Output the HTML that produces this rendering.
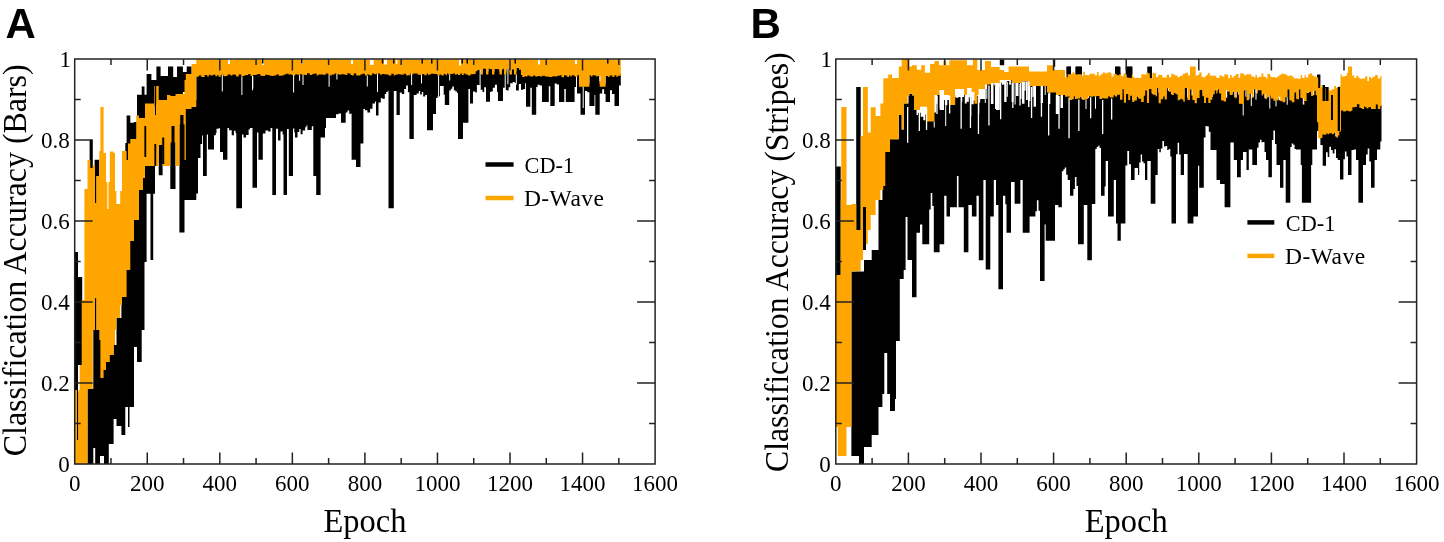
<!DOCTYPE html>
<html><head><meta charset="utf-8"><title>Classification Accuracy</title>
<style>
html,body{margin:0;padding:0;background:#fff;width:1444px;height:542px;overflow:hidden}
svg{display:block;filter:blur(0.35px)}
.tl{font-family:'Liberation Serif', serif;font-size:24px;fill:#000}
.xl{font-family:'Liberation Serif', serif;font-size:32px;fill:#000}
.lg{font-family:'Liberation Serif', serif;font-size:23.5px;fill:#000}
.pl{font-family:'Liberation Sans', sans-serif;font-size:42px;font-weight:bold;fill:#000}
</style></head><body>
<svg width="1444" height="542" viewBox="0 0 1444 542">
<path fill="#000" d="M74.8 252H78V392H74.8zM77 392H78.4V440H77zM78 277H82.2V365H78zM89.6 139.7H92.8V168H89.6zM94.6 159.7H96.5V330H94.6zM95.4 159.7H99.3V176H95.4zM95.2 330H100V464H95.2zM100 330H104V456H100zM93.3 330H95.2V448H93.3zM87.5 389H93.3V464H87.5zM104 362H108.8V464H104zM108.8 355H113.6V444H108.8zM113.6 345H116.5V419H113.6zM116.5 318H121.4V426H116.5zM121.4 297H125.3V435H121.4zM125.3 143H130V407H125.3zM126.6 115.4H130.3V143.5H126.6zM128 400H129.5V427H128zM130 122.8H134V407H130zM134 122H137V347H134zM137 94.8H141.7V362H137zM141.7 86.6H144.5V330H141.7zM144.5 94.8H146.6V262H144.5zM143.6 95H146.6V110H143.6zM146.6 74H151.4V106H146.6zM151.4 80H156.4V106H151.4zM156.4 66.5H160.6V104H156.4zM160.6 76H168V100H160.6zM168 66.5H173.2V102H168zM173.2 77H177V100H173.2zM177 66.5H182.9V96H177zM182.9 72H186.7V92H182.9zM186.7 66.5H191.6V76H186.7zM191.6 76H196V80H191.6zM143 160H155V193.7H143zM150.5 193H153.2V260H150.5zM158.7 100H162.6V175.3H158.7zM170.3 100H175.5V189H170.3zM179.4 94H184.5V232.5H179.4zM184.5 100H196.3V200H184.5zM154.7 99H156.2V120H154.7zM196.3 73.7H198V193.6H196.3zM198 73.7H198.7V158H198zM198.7 72.5H200.5V158H198.7zM200.5 72.5H201.3V144H200.5zM201.3 73.9H202.1V144H201.3zM202.1 73.9H203V135.6H202.1zM203 73.9H203V176H203zM203 74.1H204.6V176H203zM204.6 72H206.8V176H204.6zM206.8 72H207.2V134.5H206.8zM207.2 73.4H208V134.5H207.2zM208 73.4H208.8V149.4H208zM208.8 71.8H210.4V149.4H208.8zM210.4 72.6H212.9V149.4H210.4zM212.9 71.8H214V149.4H212.9zM214 71.8H215.4V135.2H214zM215.4 73.2H215.8V135.2H215.4zM215.8 73.2H216.5V133.1H215.8zM216.5 73.2H217.2V128.7H216.5zM217.2 72H218.5V128.7H217.2zM218.5 73.7H218.5V128.7H218.5zM218.5 73.7H220V128.2H218.5zM220 73.7H220.8V152H220zM220.8 71.7H223V152H220.8zM223 71.7H223.5V159.7H223zM223.5 73.2H225.5V159.7H223.5zM225.5 73H227.4V159.7H225.5zM227.4 73H227.5V127.9H227.4zM227.5 71.5H229V127.9H227.5zM229 71.4H229.1V127.9H229zM229.1 71.4H230.4V130.2H229.1zM230.4 72.5H231.7V130.2H230.4zM231.7 72.5H232.5V135.2H231.7zM232.5 71.6H233.9V135.2H232.5zM233.9 71.6H234.6V130.8H233.9zM234.6 71.7H235.6V130.8H234.6zM235.6 71.7H236.1V133.3H235.6zM236.1 73.6H236.3V133.3H236.1zM236.3 73.6H238.6V208.3H236.3zM238.6 71.4H241.3V208.3H238.6zM241.3 73.4H242V208.3H241.3zM242 73.4H242.6V134.5H242zM242.6 73H243.5V134.5H242.6zM243.5 73H244.5V137.6H243.5zM244.5 72.2H246V137.6H244.5zM246 72.2H246.3V134.9H246zM246.3 72.1H248.3V134.9H246.3zM248.3 71.1H248.6V134.9H248.3zM248.6 71.1H249.9V129.6H248.6zM249.9 71.1H250.5V128.1H249.9zM250.5 73H252.5V128.1H250.5zM252.5 73H252.8V187.7H252.5zM252.8 72.1H254.3V187.7H252.8zM254.3 71.9H256.7V187.7H254.3zM256.7 71.3H257V187.7H256.7zM257 71.3H258.2V132.5H257zM258.2 70.9H258.4V132.5H258.2zM258.4 70.9H260.2V159.7H258.4zM260.2 72.8H262.8V159.7H260.2zM262.8 72.8H262.8V133.6H262.8zM262.8 72.9H265.1V133.6H262.8zM265.1 71.8H265.5V133.6H265.1zM265.5 71.8H267.3V130.5H265.5zM267.3 72H268.1V130.5H267.3zM268.1 72H269.5V131.5H268.1zM269.5 72.7H270.6V131.5H269.5zM270.6 72.7H272.3V128.1H270.6zM272.3 72.9H272.3V128.1H272.3zM272.3 72.9H273.9V195H272.3zM273.9 72.5H276V195H273.9zM276 72.5H276.3V128.8H276zM276.3 71.6H278V128.8H276.3zM278 71.6H278.8V140.5H278zM278.8 72.7H280.5V140.5H278.8zM280.5 72.7H281.4V131.6H280.5zM281.4 72.4H282.6V131.6H281.4zM282.6 72.4H283.5V134.6H282.6zM283.5 72.4H283.7V195H283.5zM283.7 71.5H286.2V195H283.7zM286.2 70.7H287V195H286.2zM287 70.7H288.5V129H287zM288.5 71.6H288.8V129H288.5zM288.8 71.6H290.3V176H288.8zM290.3 71.3H291.5V176H290.3zM291.5 71.9H293V176H291.5zM293 71.9H293.7V128.5H293zM293.7 72.6H294.3V128.5H293.7zM294.3 72.6H295V132.6H294.3zM295 72.6H295.3V137.6H295zM295.3 71.2H297.5V137.6H295.3zM297.5 71.2H297.5V132H297.5zM297.5 71.7H299.3V132H297.5zM299.3 71.7H299.8V128.9H299.3zM299.8 71.2H300.6V128.9H299.8zM300.6 71.2H301.8V134.2H300.6zM301.8 71.8H302.6V134.2H301.8zM302.6 71.8H304.6V130.5H302.6zM304.6 72.1H305.1V130.5H304.6zM305.1 72.1H306.3V127.2H305.1zM306.3 72.1H307V125.5H306.3zM307 70.3H307.4V125.5H307zM307.4 70.3H309.7V130H307.4zM309.7 72.1H311.8V130H309.7zM311.8 72.1H311.9V126.2H311.8zM311.9 71.3H313.3V126.2H311.9zM313.3 71.3H313.5V176H313.3zM313.5 70.8H314.8V176H313.5zM314.8 70.5H316.2V176H314.8zM316.2 70.5H316.6V195H316.2zM316.6 72.5H318.2V195H316.6zM318.2 71.5H320.3V195H318.2zM320.3 71.6H320.6V195H320.3zM320.6 71.6H323V137.6H320.6zM323 71.8H325V137.6H323zM325 71.8H325.8V128.1H325zM325.8 70.5H326V128.1H325.8zM326 70.5H328.3V118H326zM328.3 72.1H330.5V118H328.3zM330.5 72.5H331.8V118H330.5zM331.8 71.4H333.2V118H331.8zM333.2 71.5H334.7V118H333.2zM334.7 70.4H336V118H334.7zM336 70.4H336.9V114.2H336zM336.9 71.3H338.5V114.2H336.9zM338.5 71.3H339.6V113.4H338.5zM339.6 71.7H341V113.4H339.6zM341 71.7H341.6V122.8H341zM341.6 70.9H343.4V122.8H341.6zM343.4 71.6H345.7V122.8H343.4zM345.7 72H345.7V122.8H345.7zM345.7 72H347.3V112.4H345.7zM347.3 70.3H347.5V112.4H347.3zM347.5 70.3H349V110.4H347.5zM349 70.4H349.2V110.4H349zM349.2 70.4H350.6V113.7H349.2zM350.6 72.1H351.6V113.7H350.6zM351.6 72.1H352V159.7H351.6zM352 72.4H353.8V159.7H352zM353.8 70.4H356V159.7H353.8zM356 70.4H356.2V167H356zM356.2 72.5H359V167H356.2zM359 72.4H360.3V167H359zM360.3 71.4H360.5V167H360.3zM360.5 71.4H362.2V143.5H360.5zM362.2 70.8H363.4V143.5H362.2zM363.4 70.8H365V109H363.4zM365 72.5H365V109H365zM365 72.5H367V110.3H365zM367 71.4H367.4V110.3H367zM367.4 71.4H369.4V112.6H367.4zM369.4 72.2H370.1V112.6H369.4zM370.1 72.2H372.1V108.8H370.1zM372.1 70.5H372.5V108.8H372.1zM372.5 70.5H374.3V103.5H372.5zM374.3 71.3H375V103.5H374.3zM375 71.3H376V101.4H375zM376 71.3H376.5V115.5H376zM376.5 70.4H378V115.5H376.5zM378 70.5H378.5V115.5H378zM378.5 70.5H380.1V102.5H378.5zM380.1 71.8H380.8V102.5H380.1zM380.8 71.8H382V98.1H380.8zM382 70.9H382.3V98.1H382zM382.3 70.9H383.9V98.7H382.3zM383.9 71.2H384.8V98.7H383.9zM384.8 71.2H386.1V93.9H384.8zM386.1 71.5H386.2V93.9H386.1zM386.2 71.5H387.6V92H386.2zM387.6 71.5H388.5V90.8H387.6zM388.5 72.5H388.5V90.8H388.5zM388.5 72.5H391.3V208.3H388.5zM391.3 70.8H393.7V208.3H391.3zM393.7 72.4H393.8V208.3H393.7zM393.8 72.4H395V91H393.8zM395 71.7H396.5V91H395zM396.5 71.7H397.5V115H396.5zM397.5 70.9H399.3V115H397.5zM399.3 71.6H399.8V115H399.3zM399.8 71.6H401.6V92.6H399.8zM401.6 71.7H401.8V92.6H401.6zM401.8 71.7H403.7V94.1H401.8zM403.7 70.7H404.2V94.1H403.7zM404.2 70.7H406.1V89H404.2zM406.1 70.7H406.1V85.6H406.1zM406.1 72.6H407.7V85.6H406.1zM407.7 72.3H407.9V85.6H407.7zM407.9 72.3H409.4V92.3H407.9zM409.4 72.3H410.4V139H409.4zM410.4 70.3H411.7V139H410.4zM411.7 71.2H413.3V139H411.7zM413.3 70.4H413.8V139H413.3zM413.8 70.4H415.5V94.9H413.8zM415.5 70.4H416.6V94.9H415.5zM416.6 70.4H417.6V93.5H416.6zM417.6 71.8H418.8V93.5H417.6zM418.8 71.8H418.9V91H418.8zM418.9 71.7H420.1V91H418.9zM420.1 71.7H421V94.5H420.1zM421 71.3H421.8V94.5H421zM421.8 71.3H422.8V92H421.8zM422.8 71H423.2V92H422.8zM423.2 71H424.3V96.4H423.2zM424.3 72.2H425.2V96.4H424.3zM425.2 72.2H426.7V94.9H425.2zM426.7 70.5H427V94.9H426.7zM427 70.5H428V130.2H427zM428 71.7H430.5V130.2H428zM430.5 70.7H432.9V130.2H430.5zM432.9 70.8H433V130.2H432.9zM433 70.8H434.8V114H433zM434.8 71.1H436V114H434.8zM436 71.1H437.3V98.1H436zM437.3 72.6H437.5V98.1H437.3zM437.5 72.6H439.6V96.3H437.5zM439.6 71.5H440V96.3H439.6zM440 71.5H441.3V86H440zM441.3 72.4H443.7V86H441.3zM443.7 71.1H443.7V86H443.7zM443.7 71.1H444.8V94.7H443.7zM444.8 71.1H445.6V105H444.8zM445.6 72.3H446.9V105H445.6zM446.9 70.4H448.2V105H446.9zM448.2 71.4H449.2V105H448.2zM449.2 71.4H450.3V90.5H449.2zM450.3 70.9H450.8V90.5H450.3zM450.8 70.9H452.3V88.7H450.8zM452.3 70.9H452.6V86.4H452.3zM452.6 70.4H453.9V86.4H452.6zM453.9 70.4H455.1V90.3H453.9zM455.1 71.8H455.4V90.3H455.1zM455.4 71.8H456.6V91.5H455.4zM456.6 70.9H457V91.5H456.6zM457 70.9H458V92.9H457zM458 71.9H458V92.9H458zM458 71.9H460.3V139H458zM460.3 70.5H462V139H460.3zM462 71.9H463V139H462zM463 71.9H463.7V122.8H463zM463.7 70.5H465.5V122.8H463.7zM465.5 71.6H467.9V122.8H465.5zM467.9 72.5H468.4V122.8H467.9zM468.4 72.5H470V89H468.4zM470 72.5H470.5V103.6H470zM470.5 71.3H473V103.6H470.5zM473 71.3H473.2V91.6H473zM473.2 70.9H475.3V91.6H473.2zM475.3 70.9H475.7V92.4H475.3zM475.7 68.3H476.9V92.4H475.7zM476.9 68.3H477.4V84.9H476.9zM477.4 66.9H479.1V84.9H477.4zM479.1 66.9H480.4V85.3H479.1zM480.4 66.9H480.5V89.7H480.4zM480.5 71.4H482.5V89.7H480.5zM482.5 71.4H482.9V92H482.5zM482.9 65.7H484.2V92H482.9zM484.2 65.7H484.5V87.2H484.2zM484.5 65.7H486V87.2H484.5zM486 71.4H488.4V101.8H486zM488.4 65.7H490V101.8H488.4zM490 65.7H490.2V92.1H490zM490.2 66.2H491.4V92.1H490.2zM491.4 66.2H492V91.3H491.4zM492 71.4H492.8V91.3H492zM492.8 71.4H494.4V87.8H492.8zM494.4 66.1H494.9V87.8H494.4zM494.9 66.1H496.9V84.7H494.9zM496.9 66.2H497V84.7H496.9zM497 66.2H498V91.9H497zM498 66.2H499.5V101H498zM499.5 71.4H501.9V101H499.5zM501.9 66.6H503V101H501.9zM503 66.6H503.4V87.7H503zM503.4 65.5H504V87.7H503.4zM504 71.4H505.5V87.7H504zM505.5 71.4H506.4V89.9H505.5zM506.4 66H506.9V89.9H506.4zM506.9 66H507.6V90.5H506.9zM507.6 66.2H508.6V90.5H507.6zM508.6 66.2H509.5V87.2H508.6zM509.5 71.4H510.2V87.2H509.5zM510.2 71.4H511.9V83.2H510.2zM511.9 66.4H512.7V83.2H511.9zM512.7 66.4H514V82H512.7zM514 71.4H514.8V82H514zM514.8 71.4H516V83H514.8zM516 71.4H516.4V90.5H516zM516.4 65H518.8V90.5H516.4zM518.8 65H518.9V84.1H518.8zM518.9 66.7H521V84.1H518.9zM521 72H521V84.1H521zM521 72H522.3V89.8H521zM522.3 74H523.3V89.8H522.3zM523.3 74H524.7V88.9H523.3zM524.7 73.3H525.1V88.9H524.7zM525.1 73.3H526V83.2H525.1zM526 73.3H526V106.7H526zM526 73.6H527.4V106.7H526zM527.4 72.4H529.7V106.7H527.4zM529.7 73.6H530.3V106.7H529.7zM530.3 73.6H531.2V87.7H530.3zM531.2 73.6H531.8V87.7H531.2zM531.8 73.6H533.3V114.8H531.8zM533.3 72.6H535.1V114.8H533.3zM535.1 73.4H536.2V114.8H535.1zM536.2 73.4H537.6V86.9H536.2zM537.6 73.4H537.8V84.7H537.6zM537.8 73.1H539.7V84.7H537.8zM539.7 73.1H539.8V85.6H539.7zM539.8 73.5H542V85.6H539.8zM542 73.5H542.2V102H542zM542.2 72.8H544.9V102H542.2zM544.9 73.4H547.4V102H544.9zM547.4 73.7H548.8V102H547.4zM548.8 73.7H549.9V86.3H548.8zM549.9 73.9H550.3V86.3H549.9zM550.3 73.9H552.5V106H550.3zM552.5 73.3H554.7V106H552.5zM554.7 73.3H555.2V83.4H554.7zM555.2 73.5H556.9V83.4H555.2zM556.9 73.5H557.2V84.4H556.9zM557.2 72.8H559V84.4H557.2zM559 72.8H559.7V102H559zM559.7 72.2H561.6V102H559.7zM561.6 74.2H564V102H561.6zM564 72.2H564.3V102H564zM564.3 72.2H565.8V89H564.3zM565.8 72.8H565.8V89H565.8zM565.8 72.8H567.3V102H565.8zM567.3 74.1H569V102H567.3zM569 72.5H570.3V102H569zM570.3 73.4H571.7V102H570.3zM571.7 72.2H574.1V102H571.7zM574.1 72.9H574.6V102H574.1zM574.6 72.9H575.4V87.1H574.6zM575.4 74H576V87.1H575.4zM576 74H577.5V93.4H576zM577.5 72.1H579V93.4H577.5zM579 83.7H580.5V93.4H579zM580.5 83.7H585V114.8H580.5zM585 83.7H587.2V91.1H585zM587.2 83.7H589.4V92.2H587.2zM589.4 72.3H590.9V106H589.4zM590.9 73.5H592.5V106H590.9zM592.5 72.3H594.5V106H592.5zM594.5 72.3H594.6V94.9H594.5zM594.6 72.5H595.3V94.9H594.6zM595.3 72.5H596.1V114.8H595.3zM596.1 73.6H597.6V114.8H596.1zM597.6 73.1H599.7V114.8H597.6zM599.7 83.7H602.2V93.6H599.7zM602.2 83.7H604.1V89.3H602.2zM604.1 83.7H605.6V94.1H604.1zM605.6 73H608.1V102H605.6zM608.1 73.9H609.7V102H608.1zM609.7 72.6H610V102H609.7zM610 72.6H612V90.3H610zM612 72.6H612.4V94H612zM612.4 74.1H614.5V94H612.4zM614.5 72.3H614.5V94H614.5zM614.5 72.3H616.4V106H614.5zM616.4 74.1H617.7V106H616.4zM617.7 72.7H619V106H617.7zM619 72.7H620.2V85.5H619zM620.2 73H620.8V85.5H620.2z"/>
<path fill="#FFA500" d="M74.8 390H77V464.5H74.8zM77 440H78.4V464.5H77zM78.4 390H79.7V464.5H78.4zM79.7 365H81.7V464.5H79.7zM81.7 300H84.4V464.5H81.7zM84.4 189H87.5V464.5H84.4zM87.5 160H90.3V389H87.5zM90.3 168H92.8V389H90.3zM92.8 165H95V330H92.8zM95 203H96.5V298H95zM96.5 176H99.3V330H96.5zM99.3 151H100.4V340H99.3zM100.4 107H103.6V378H100.4zM103.6 153H106V370H103.6zM106 182H107.3V362H106zM107.3 209H108.5V362H107.3zM108.5 182H109.8V362H108.5zM109.8 151.6H113.7V355H109.8zM113.7 153H115V345H113.7zM115 191H116.4V330H115zM116.4 204H120.2V318H116.4zM120.2 191H122V305H120.2zM122 151H126.6V297H122zM126.6 160H128V270H126.6zM128 143.5H130.3V270H128zM130.3 139H134V241H130.3zM134 139H136.2V220H134zM136.2 115.4H139V220H136.2zM139 118H143V190H139zM143 118H145V178H143zM145 103.6H154V166H145zM154 86H154.7V166H154zM154.7 115H156.2V166H154.7zM156.2 86H158.7V166H156.2zM158.7 100H162.6V145H158.7zM162.6 100H167V166H162.6zM167 95H170.3V166H167zM170.3 96H175.5V142.6H170.3zM175.5 94H179.4V166H175.5zM179.4 94H184.5V124.5H179.4zM184.5 80H185.8V160H184.5zM185.8 74H191.6V109H185.8zM191.6 64H196.3V107H191.6zM196.3 59.6H198.2V76.7H196.3zM198.2 59.6H198.7V76.7H198.2zM198.7 59.6H200.9V75.5H198.7zM200.9 59.7H201.3V75.5H200.9zM201.3 59.7H202.9V76.9H201.3zM202.9 59.6H203V76.9H202.9zM203 59.6H204.4V77.1H203zM204.4 59.8H204.6V77.1H204.4zM204.6 59.8H206.6V75H204.6zM206.6 59.5H207.2V75H206.6zM207.2 59.5H208V76.4H207.2zM208 59.8H208.8V76.4H208zM208.8 59.8H209.3V74.8H208.8zM209.3 59.3H210.4V74.8H209.3zM210.4 59.3H211.6V75.6H210.4zM211.6 59.9H212.9V75.6H211.6zM212.9 59.9H214.4V74.8H212.9zM214.4 59.7H215.4V74.8H214.4zM215.4 59.7H216.6V76.2H215.4zM216.6 59.3H217.2V76.2H216.6zM217.2 59.3H218.1V75H217.2zM218.1 59.3H218.5V75H218.1zM218.5 59.3H220.1V76.7H218.5zM220.1 59.4H220.8V76.7H220.1zM220.8 59.4H221.6V74.7H220.8zM221.6 59.6H222.9V74.7H221.6zM222.9 59.8H223.5V74.7H222.9zM223.5 59.8H224.8V76.2H223.5zM224.8 59.7H225.5V76.2H224.8zM225.5 59.7H226.8V76H225.5zM226.8 59.7H227.5V76H226.8zM227.5 59.7H228V74.5H227.5zM228 64H229V74.5H228zM229 64H230V74.4H229zM230 59.5H230.4V74.4H230zM230.4 59.5H231.9V75.5H230.4zM231.9 59.9H232.5V75.5H231.9zM232.5 59.9H234.6V74.6H232.5zM234.6 59.9H234.7V74.7H234.6zM234.7 59.7H236.1V74.7H234.7zM236.1 59.7H237.3V76.6H236.1zM237.3 59.4H238.6V76.6H237.3zM238.6 59.4H239V74.4H238.6zM239 59.3H240.6V74.4H239zM240.6 59.5H241.3V74.4H240.6zM241.3 59.5H242.6V76.4H241.3zM242.6 59.5H243.1V76H242.6zM243.1 59.5H244.5V76H243.1zM244.5 59.5H245.6V75.2H244.5zM245.6 59.8H246.3V75.2H245.6zM246.3 59.8H248.3V75.1H246.3zM248.3 59.8H248.4V74.1H248.3zM248.4 59.4H249.6V74.1H248.4zM249.6 59.6H250.5V74.1H249.6zM250.5 59.6H252.2V76H250.5zM252.2 59.5H252.8V76H252.2zM252.8 59.5H254.3V75.1H252.8zM254.3 59.5H255V74.9H254.3zM255 59.7H256.3V74.9H255zM256.3 59.5H256.7V74.9H256.3zM256.7 59.5H258.2V74.3H256.7zM258.2 59.5H258.7V73.9H258.2zM258.7 59.5H260.1V73.9H258.7zM260.1 59.8H260.2V73.9H260.1zM260.2 59.8H262V75.8H260.2zM262 65H262.8V75.8H262zM262.8 65H264V75.9H262.8zM264 59.4H265.1V75.9H264zM265.1 59.4H265.4V74.8H265.1zM265.4 59.3H266.8V74.8H265.4zM266.8 59.4H267.3V74.8H266.8zM267.3 59.4H269.2V75H267.3zM269.2 59.6H269.5V75H269.2zM269.5 59.6H271.3V75.7H269.5zM271.3 59.7H272.3V75.7H271.3zM272.3 59.7H272.8V75.9H272.3zM272.8 59.7H273.9V75.9H272.8zM273.9 59.7H274.2V75.5H273.9zM274.2 59.6H275.6V75.5H274.2zM275.6 59.5H276.3V75.5H275.6zM276.3 59.5H277.2V74.6H276.3zM277.2 59.8H278.8V74.6H277.2zM278.8 59.8H279.9V75.7H278.8zM279.9 59.8H281.4V75.7H279.9zM281.4 59.8H281.6V75.4H281.4zM281.6 59.5H283.1V75.4H281.6zM283.1 59.7H283.7V75.4H283.1zM283.7 59.7H285.7V74.5H283.7zM285.7 59.9H286.2V74.5H285.7zM286.2 59.9H287.1V73.7H286.2zM287.1 59.5H288.5V73.7H287.1zM288.5 59.5H288.6V74.6H288.5zM288.6 59.5H290.3V74.6H288.6zM290.3 59.5H291V74.3H290.3zM291 59.3H291.5V74.3H291zM291.5 59.3H292.7V74.9H291.5zM292.7 59.6H293.7V74.9H292.7zM293.7 59.6H294.1V75.6H293.7zM294.1 59.7H295.3V75.6H294.1zM295.3 59.7H295.7V74.2H295.3zM295.7 59.6H297.4V74.2H295.7zM297.4 59.6H297.5V74.2H297.4zM297.5 59.6H299.8V74.7H297.5zM299.8 59.6H300.2V74.2H299.8zM300.2 59.8H301V74.2H300.2zM301 64H301.8V74.2H301zM301.8 64H303V74.8H301.8zM303 59.4H304.5V74.8H303zM304.5 59.8H304.6V74.8H304.5zM304.6 59.8H307V75.1H304.6zM307 59.8H307.1V73.3H307zM307.1 59.4H308.7V73.3H307.1zM308.7 59.9H309.7V73.3H308.7zM309.7 59.9H311.1V75.1H309.7zM311.1 59.9H311.9V75.1H311.1zM311.9 59.9H312.6V74.3H311.9zM312.6 59.7H313.5V74.3H312.6zM313.5 59.7H314.8V73.8H313.5zM314.8 59.7H315.3V73.5H314.8zM315.3 59.4H316.6V73.5H315.3zM316.6 59.4H317.1V75.5H316.6zM317.1 59.9H318.2V75.5H317.1zM318.2 59.9H318.4V74.5H318.2zM318.4 59.7H320V74.5H318.4zM320 59.8H320.3V74.5H320zM320.3 59.8H321.6V74.6H320.3zM321.6 59.5H323V74.6H321.6zM323 59.5H323.7V74.8H323zM323.7 59.7H325.2V74.8H323.7zM325.2 59.4H325.8V74.8H325.2zM325.8 59.4H326.5V73.5H325.8zM326.5 59.8H328.3V73.5H326.5zM328.3 59.8H328.6V75.1H328.3zM328.6 59.5H330.5V75.1H328.6zM330.5 59.5H330.8V75.5H330.5zM330.8 59.4H331.8V75.5H330.8zM331.8 59.4H333.2V74.4H331.8zM333.2 59.4H333.5V74.5H333.2zM333.5 59.5H334.7V74.5H333.5zM334.7 59.5H334.7V73.4H334.7zM334.7 59.3H336.6V73.4H334.7zM336.6 59.5H336.9V73.4H336.6zM336.9 59.5H338.1V74.3H336.9zM338.1 59.4H339.6V74.3H338.1zM339.6 59.4H340.2V74.7H339.6zM340.2 59.8H341.6V74.7H340.2zM341.6 59.8H342V73.9H341.6zM342 59.7H343.4V73.9H342zM343.4 59.7H344.8V74.6H343.4zM344.8 59.7H345.7V74.6H344.8zM345.7 59.7H347.1V75H345.7zM347.1 59.3H347.3V75H347.1zM347.3 59.3H348.5V73.3H347.3zM348.5 59.8H349V73.3H348.5zM349 59.8H349.7V73.4H349zM349.7 59.9H350.6V73.4H349.7zM350.6 59.9H351V75.1H350.6zM351 64H352V75.1H351zM352 64H353V75.4H352zM353 59.7H353.8V75.4H353zM353.8 59.7H354.2V73.4H353.8zM354.2 59.7H356.2V73.4H354.2zM356.2 59.9H356.2V73.4H356.2zM356.2 59.9H357.9V75.5H356.2zM357.9 59.6H359V75.5H357.9zM359 59.6H359.2V75.4H359zM359.2 59.8H360.3V75.4H359.2zM360.3 59.8H361.6V74.4H360.3zM361.6 59.7H362.2V74.4H361.6zM362.2 59.7H364V73.8H362.2zM364 59.8H365V73.8H364zM365 59.8H366.5V75.5H365zM366.5 59.7H367V75.5H366.5zM367 59.7H368.2V74.4H367zM368.2 59.8H369.4V74.4H368.2zM369.4 59.8H370V75.2H369.4zM370 65H372.1V75.2H370zM372.1 65H373.6V73.5H372.1zM373.6 59.8H374.3V73.5H373.6zM374.3 59.8H375.5V74.3H374.3zM375.5 59.6H376.5V74.3H375.5zM376.5 59.6H378V73.4H376.5zM378 59.6H378V73.5H378zM378 59.5H380.1V73.5H378zM380.1 59.5H380.2V74.8H380.1zM380.2 59.7H382V74.8H380.2zM382 59.7H382.4V73.9H382zM382.4 59.7H383.9V73.9H382.4zM383.9 59.7H384V74.2H383.9zM384 64.5H386.1V74.2H384zM386.1 64.5H387V74.5H386.1zM387 59.8H388.5V74.5H387zM388.5 59.8H389.8V75.5H388.5zM389.8 59.5H391.3V75.5H389.8zM391.3 59.5H392.2V73.8H391.3zM392.2 59.6H393.7V73.8H392.2zM393.7 59.6H394.5V75.4H393.7zM394.5 59.8H395V75.4H394.5zM395 59.8H395.8V74.7H395zM395.8 64H397.3V74.7H395.8zM397.3 59.8H397.5V74.7H397.3zM397.5 59.8H398.6V73.9H397.5zM398.6 59.7H399.3V73.9H398.6zM399.3 59.7H399.9V74.6H399.3zM399.9 59.4H401.6V74.6H399.9zM401.6 59.4H401.9V74.7H401.6zM401.9 59.6H403.7V74.7H401.9zM403.7 59.6H404.2V73.7H403.7zM404.2 59.9H406.1V73.7H404.2zM406.1 59.9H406.4V75.6H406.1zM406.4 59.3H407.7V75.6H406.4zM407.7 59.3H408V75.3H407.7zM408 59.7H409.6V75.3H408zM409.6 59.4H410.4V75.3H409.6zM410.4 59.4H411.2V73.3H410.4zM411.2 59.7H411.7V73.3H411.2zM411.7 59.7H413.3V74.2H411.7zM413.3 59.7H413.8V73.4H413.3zM413.8 59.8H415.5V73.4H413.8zM415.5 59.8H415.7V73.4H415.5zM415.7 59.7H417.4V73.4H415.7zM417.4 59.6H417.6V73.4H417.4zM417.6 59.6H418.9V74.8H417.6zM418.9 59.6H419V74.7H418.9zM419 59.8H421V74.7H419zM421 59.8H421.5V74.3H421zM421.5 59.5H422.8V74.3H421.5zM422.8 59.5H424.1V74H422.8zM424.1 59.5H424.3V74H424.1zM424.3 59.5H426.2V75.2H424.3zM426.2 59.6H426.7V75.2H426.2zM426.7 59.6H427.6V73.5H426.7zM427.6 59.8H428V73.5H427.6zM428 59.8H430.2V74.7H428zM430.2 59.9H430.5V74.7H430.2zM430.5 59.9H432.5V73.7H430.5zM432.5 59.4H432.9V73.7H432.5zM432.9 59.4H434.1V73.8H432.9zM434.1 59.5H434.8V73.8H434.1zM434.8 59.5H436.1V74.1H434.8zM436.1 59.5H437.3V74.1H436.1zM437.3 59.5H437.6V75.6H437.3zM437.6 59.6H439.6V75.6H437.6zM439.6 59.6H439.8V74.5H439.6zM439.8 59.8H441.3V74.5H439.8zM441.3 59.8H441.5V75.4H441.3zM441.5 59.6H443.7V75.4H441.5zM443.7 59.6H444.3V74.1H443.7zM444.3 59.3H445.6V74.1H444.3zM445.6 59.3H445.6V75.3H445.6zM445.6 59.3H446.9V75.3H445.6zM446.9 59.3H448.2V73.4H446.9zM448.2 59.6H448.2V73.4H448.2zM448.2 59.6H450.3V74.4H448.2zM450.3 59.6H450.5V73.9H450.3zM450.5 59.8H452.2V73.9H450.5zM452.2 59.4H452.6V73.9H452.2zM452.6 59.4H453.4V73.4H452.6zM453.4 59.3H455.1V73.4H453.4zM455.1 59.3H455.4V74.8H455.1zM455.4 59.4H456.6V74.8H455.4zM456.6 59.4H457.9V73.9H456.6zM457.9 59.3H458V73.9H457.9zM458 59.3H459V74.9H458zM459 65.5H460.3V74.9H459zM460.3 65.5H461V73.5H460.3zM461 59.6H462V73.5H461zM462 59.6H463.2V74.9H462zM463.2 59.7H463.7V74.9H463.2zM463.7 59.7H465.4V73.5H463.7zM465.4 59.9H465.5V73.5H465.4zM465.5 59.9H467.9V74.6H465.5zM467.9 59.9H467.9V75.5H467.9zM467.9 59.4H470.2V75.5H467.9zM470.2 59.4H470.5V75.5H470.2zM470.5 59.4H472.2V74.3H470.5zM472.2 59.6H473.2V74.3H472.2zM473.2 59.6H473.4V73.9H473.2zM473.4 59.4H475.7V73.9H473.4zM475.7 59.4H475.7V71.3H475.7zM475.7 59.5H477.4V71.3H475.7zM477.4 59.6H477.4V71.3H477.4zM477.4 59.6H479.7V69.9H477.4zM479.7 59.8H480.5V69.9H479.7zM480.5 59.8H481.9V74.4H480.5zM481.9 59.8H482.9V74.4H481.9zM482.9 59.8H483.7V68.7H482.9zM483.7 59.4H484.5V68.7H483.7zM484.5 59.4H486V68.7H484.5zM486 59.4H486.3V74.4H486zM486.3 59.7H488.4V74.4H486.3zM488.4 59.7H489V68.7H488.4zM489 59.6H490.2V68.7H489zM490.2 59.6H490.4V69.2H490.2zM490.4 59.8H492V69.2H490.4zM492 59.8H492.6V74.4H492zM492.6 59.6H494.4V74.4H492.6zM494.4 59.6H494.4V69.1H494.4zM494.4 59.8H496.9V69.1H494.4zM496.9 59.8H497V69.2H496.9zM497 59.6H499.5V69.2H497zM499.5 59.6H499.8V74.4H499.5zM499.8 59.4H501.9V74.4H499.8zM501.9 59.4H502V69.6H501.9zM502 59.8H503.4V69.6H502zM503.4 59.8H504V68.5H503.4zM504 59.8H504.4V74.4H504zM504.4 59.7H506.4V74.4H504.4zM506.4 59.7H506.6V69H506.4zM506.6 59.8H507.6V69H506.6zM507.6 59.8H508.1V69.2H507.6zM508.1 59.9H509.5V69.2H508.1zM509.5 59.9H510.9V74.4H509.5zM510.9 59.8H511.9V74.4H510.9zM511.9 59.8H513V69.4H511.9zM513 59.8H514V69.4H513zM514 59.8H514.7V74.4H514zM514.7 59.5H516.4V74.4H514.7zM516.4 59.5H517.2V68H516.4zM517.2 59.6H518.6V68H517.2zM518.6 59.8H518.9V68H518.6zM518.9 59.8H520.6V69.7H518.9zM520.6 59.3H521V69.7H520.6zM521 59.3H522.3V75H521zM522.3 59.3H522.6V77H522.3zM522.6 59.3H524.7V77H522.6zM524.7 59.3H525.1V76.3H524.7zM525.1 59.4H526V76.3H525.1zM526 59.4H527.4V76.6H526zM527.4 59.4H527.6V75.4H527.4zM527.6 59.8H529.3V75.4H527.6zM529.3 59.4H529.7V75.4H529.3zM529.7 59.4H530.8V76.6H529.7zM530.8 59.7H531.2V76.6H530.8zM531.2 59.7H532.8V76.6H531.2zM532.8 59.7H533.3V76.6H532.8zM533.3 59.7H535.1V75.6H533.3zM535.1 59.7H535.3V76.4H535.1zM535.3 59.6H537.8V76.4H535.3zM537.8 59.6H538V76.1H537.8zM538 64.5H539.8V76.1H538zM539.8 64.5H540V76.5H539.8zM540 59.4H542.2V76.5H540zM542.2 59.4H542.7V75.8H542.2zM542.7 59.6H544.3V75.8H542.7zM544.3 59.7H544.9V75.8H544.3zM544.9 59.7H545.9V76.4H544.9zM545.9 59.6H547.4V76.4H545.9zM547.4 59.6H548.2V76.7H547.4zM548.2 59.6H549.9V76.7H548.2zM549.9 59.6H550.7V76.9H549.9zM550.7 59.5H552.4V76.9H550.7zM552.4 59.8H552.5V76.9H552.4zM552.5 59.8H555V76.3H552.5zM555 59.8H555.2V76.3H555zM555.2 59.8H556.5V76.5H555.2zM556.5 59.6H557.2V76.5H556.5zM557.2 59.6H559.2V75.8H557.2zM559.2 59.4H559.7V75.8H559.2zM559.7 59.4H561.4V75.2H559.7zM561.4 59.6H561.6V75.2H561.4zM561.6 59.6H563.4V77.2H561.6zM563.4 59.3H564V77.2H563.4zM564 59.3H565.6V75.2H564zM565.6 59.6H565.8V75.2H565.6zM565.8 59.6H567.3V75.8H565.8zM567.3 59.6H568.3V77.1H567.3zM568.3 59.8H569V77.1H568.3zM569 59.8H570.2V75.5H569zM570.2 59.6H570.3V75.5H570.2zM570.3 59.6H571.7V76.4H570.3zM571.7 59.6H572.3V75.2H571.7zM572.3 59.3H574.1V75.2H572.3zM574.1 59.3H575V75.9H574.1zM575 64H575.4V75.9H575zM575.4 64H577V77H575.4zM577 59.5H577.5V77H577zM577.5 59.5H579V75.1H577.5zM579 59.5H579.1V86.7H579zM579.1 59.9H581.8V86.7H579.1zM581.8 59.6H583.4V86.7H581.8zM583.4 59.6H584.8V86.7H583.4zM584.8 59.8H587.3V86.7H584.8zM587.3 59.5H589.3V86.7H587.3zM589.3 59.7H589.4V86.7H589.3zM589.4 59.7H590.8V75.3H589.4zM590.8 59.4H590.9V75.3H590.8zM590.9 59.4H592.5V76.5H590.9zM592.5 59.4H593.5V75.3H592.5zM593.5 59.3H594.6V75.3H593.5zM594.6 59.3H595.9V75.5H594.6zM595.9 59.4H596.1V75.5H595.9zM596.1 59.4H597.4V76.6H596.1zM597.4 59.5H597.6V76.6H597.4zM597.6 59.5H599.7V76.1H597.6zM599.7 59.5H599.7V86.7H599.7zM599.7 59.7H601.5V86.7H599.7zM601.5 59.7H602.9V86.7H601.5zM602.9 59.6H604.3V86.7H602.9zM604.3 59.4H605.6V86.7H604.3zM605.6 59.4H605.9V76H605.6zM605.9 59.6H607.9V76H605.9zM607.9 59.5H608.1V76H607.9zM608.1 59.5H609.7V76.9H608.1zM609.7 59.4H609.7V76.9H609.7zM609.7 59.4H611.8V75.6H609.7zM611.8 59.7H612.4V75.6H611.8zM612.4 59.7H613.3V77.1H612.4zM613.3 59.6H614.5V77.1H613.3zM614.5 59.6H615.5V75.3H614.5zM615.5 59.7H616.4V75.3H615.5zM616.4 59.7H617.7V77.1H616.4zM617.7 59.7H618.1V75.7H617.7zM618.1 59.4H620.2V75.7H618.1zM620.2 59.4H620.8V76H620.2z"/>
<path fill="#fff" d="M504.7 74.4H505.7V94.7H504.7zM507.4 69H508.4V84.2H507.4zM515.8 74.4H516.8V84.6H515.8zM449.2 74.4H450.2V80.6H449.2zM252.3 76H253.3V88.6H252.3zM411.1 73.3H412.1V85.1H411.1zM221.8 74.7H222.8V91.5H221.8zM421 74.3H422V83.4H421zM328.6 75.1H329.6V86.8H328.6zM299.1 74.7H300.1V80.8H299.1zM582.7 86.7H583.7V108.1H582.7zM479.6 69.9H480.6V89.7H479.6zM377 73.4H378V92H377zM293.1 74.9H294.1V92.6H293.1zM438.1 75.6H439.1V95.9H438.1zM241.4 76.4H242.4V94.9H241.4zM252 76H253V90.2H252zM599.4 76.1H600.4V81.1H599.4zM302.5 74.8H303.5V84.9H302.5zM336.4 73.4H337.4V79.5H336.4zM576 77H577V95.8H576zM366.8 75.5H367.8V86.5H366.8z"/>
<path fill="#000" d="M421.5 58.5H423V63.5H421.5zM431 58.5H432.5V63.5H431zM461.5 58.5H463V63.5H461.5zM466.5 58.5H468V63.5H466.5zM514.5 58.5H516V63.5H514.5zM381.8 58.5H383.3V63.5H381.8zM393 58.5H394.5V63.5H393zM607 58.5H608.5V63.5H607zM301 58.5H302.5V63.5H301zM262 58.5H263.5V63.5H262zM144.4 126H146.2V157H144.4zM154.4 144H156.2V166H154.4zM162.2 137.5H164.2V164H162.2zM171.5 126H174.5V166H171.5zM180.2 115H183.5V166H180.2z"/>
<rect x="74.70" y="59.00" width="580.40" height="405.00" fill="none" stroke="#222" stroke-width="1.5"/>
<line x1="110.97" y1="464.0" x2="110.97" y2="458.0" stroke="#222" stroke-width="1.5"/>
<line x1="110.97" y1="59.0" x2="110.97" y2="65.0" stroke="#222" stroke-width="1.5"/>
<line x1="147.25" y1="464.0" x2="147.25" y2="452.5" stroke="#222" stroke-width="1.5"/>
<line x1="147.25" y1="59.0" x2="147.25" y2="70.5" stroke="#222" stroke-width="1.5"/>
<line x1="183.53" y1="464.0" x2="183.53" y2="458.0" stroke="#222" stroke-width="1.5"/>
<line x1="183.53" y1="59.0" x2="183.53" y2="65.0" stroke="#222" stroke-width="1.5"/>
<line x1="219.80" y1="464.0" x2="219.80" y2="452.5" stroke="#222" stroke-width="1.5"/>
<line x1="219.80" y1="59.0" x2="219.80" y2="70.5" stroke="#222" stroke-width="1.5"/>
<line x1="256.07" y1="464.0" x2="256.07" y2="458.0" stroke="#222" stroke-width="1.5"/>
<line x1="256.07" y1="59.0" x2="256.07" y2="65.0" stroke="#222" stroke-width="1.5"/>
<line x1="292.35" y1="464.0" x2="292.35" y2="452.5" stroke="#222" stroke-width="1.5"/>
<line x1="292.35" y1="59.0" x2="292.35" y2="70.5" stroke="#222" stroke-width="1.5"/>
<line x1="328.62" y1="464.0" x2="328.62" y2="458.0" stroke="#222" stroke-width="1.5"/>
<line x1="328.62" y1="59.0" x2="328.62" y2="65.0" stroke="#222" stroke-width="1.5"/>
<line x1="364.90" y1="464.0" x2="364.90" y2="452.5" stroke="#222" stroke-width="1.5"/>
<line x1="364.90" y1="59.0" x2="364.90" y2="70.5" stroke="#222" stroke-width="1.5"/>
<line x1="401.18" y1="464.0" x2="401.18" y2="458.0" stroke="#222" stroke-width="1.5"/>
<line x1="401.18" y1="59.0" x2="401.18" y2="65.0" stroke="#222" stroke-width="1.5"/>
<line x1="437.45" y1="464.0" x2="437.45" y2="452.5" stroke="#222" stroke-width="1.5"/>
<line x1="437.45" y1="59.0" x2="437.45" y2="70.5" stroke="#222" stroke-width="1.5"/>
<line x1="473.72" y1="464.0" x2="473.72" y2="458.0" stroke="#222" stroke-width="1.5"/>
<line x1="473.72" y1="59.0" x2="473.72" y2="65.0" stroke="#222" stroke-width="1.5"/>
<line x1="510.00" y1="464.0" x2="510.00" y2="452.5" stroke="#222" stroke-width="1.5"/>
<line x1="510.00" y1="59.0" x2="510.00" y2="70.5" stroke="#222" stroke-width="1.5"/>
<line x1="546.27" y1="464.0" x2="546.27" y2="458.0" stroke="#222" stroke-width="1.5"/>
<line x1="546.27" y1="59.0" x2="546.27" y2="65.0" stroke="#222" stroke-width="1.5"/>
<line x1="582.55" y1="464.0" x2="582.55" y2="452.5" stroke="#222" stroke-width="1.5"/>
<line x1="582.55" y1="59.0" x2="582.55" y2="70.5" stroke="#222" stroke-width="1.5"/>
<line x1="618.83" y1="464.0" x2="618.83" y2="458.0" stroke="#222" stroke-width="1.5"/>
<line x1="618.83" y1="59.0" x2="618.83" y2="65.0" stroke="#222" stroke-width="1.5"/>
<line x1="74.7" y1="423.50" x2="80.7" y2="423.50" stroke="#222" stroke-width="1.5"/>
<line x1="655.1" y1="423.50" x2="649.1" y2="423.50" stroke="#222" stroke-width="1.5"/>
<line x1="74.7" y1="383.00" x2="92.7" y2="383.00" stroke="#222" stroke-width="1.5"/>
<line x1="655.1" y1="383.00" x2="637.1" y2="383.00" stroke="#222" stroke-width="1.5"/>
<line x1="74.7" y1="342.50" x2="80.7" y2="342.50" stroke="#222" stroke-width="1.5"/>
<line x1="655.1" y1="342.50" x2="649.1" y2="342.50" stroke="#222" stroke-width="1.5"/>
<line x1="74.7" y1="302.00" x2="92.7" y2="302.00" stroke="#222" stroke-width="1.5"/>
<line x1="655.1" y1="302.00" x2="637.1" y2="302.00" stroke="#222" stroke-width="1.5"/>
<line x1="74.7" y1="261.50" x2="80.7" y2="261.50" stroke="#222" stroke-width="1.5"/>
<line x1="655.1" y1="261.50" x2="649.1" y2="261.50" stroke="#222" stroke-width="1.5"/>
<line x1="74.7" y1="221.00" x2="92.7" y2="221.00" stroke="#222" stroke-width="1.5"/>
<line x1="655.1" y1="221.00" x2="637.1" y2="221.00" stroke="#222" stroke-width="1.5"/>
<line x1="74.7" y1="180.50" x2="80.7" y2="180.50" stroke="#222" stroke-width="1.5"/>
<line x1="655.1" y1="180.50" x2="649.1" y2="180.50" stroke="#222" stroke-width="1.5"/>
<line x1="74.7" y1="140.00" x2="92.7" y2="140.00" stroke="#222" stroke-width="1.5"/>
<line x1="655.1" y1="140.00" x2="637.1" y2="140.00" stroke="#222" stroke-width="1.5"/>
<line x1="74.7" y1="99.50" x2="80.7" y2="99.50" stroke="#222" stroke-width="1.5"/>
<line x1="655.1" y1="99.50" x2="649.1" y2="99.50" stroke="#222" stroke-width="1.5"/>
<text x="74.70" y="491" text-anchor="middle" class="tl" textLength="11.50" lengthAdjust="spacingAndGlyphs">0</text>
<text x="147.25" y="491" text-anchor="middle" class="tl" textLength="34.50" lengthAdjust="spacingAndGlyphs">200</text>
<text x="219.80" y="491" text-anchor="middle" class="tl" textLength="34.50" lengthAdjust="spacingAndGlyphs">400</text>
<text x="292.35" y="491" text-anchor="middle" class="tl" textLength="34.50" lengthAdjust="spacingAndGlyphs">600</text>
<text x="364.90" y="491" text-anchor="middle" class="tl" textLength="34.50" lengthAdjust="spacingAndGlyphs">800</text>
<text x="437.45" y="491" text-anchor="middle" class="tl" textLength="46.00" lengthAdjust="spacingAndGlyphs">1000</text>
<text x="510.00" y="491" text-anchor="middle" class="tl" textLength="46.00" lengthAdjust="spacingAndGlyphs">1200</text>
<text x="582.55" y="491" text-anchor="middle" class="tl" textLength="46.00" lengthAdjust="spacingAndGlyphs">1400</text>
<text x="655.10" y="491" text-anchor="middle" class="tl" textLength="46.00" lengthAdjust="spacingAndGlyphs">1600</text>
<text x="69.70" y="471.60" text-anchor="end" class="tl" textLength="11.50" lengthAdjust="spacingAndGlyphs">0</text>
<text x="69.70" y="390.60" text-anchor="end" class="tl" textLength="28.75" lengthAdjust="spacingAndGlyphs">0.2</text>
<text x="69.70" y="309.60" text-anchor="end" class="tl" textLength="28.75" lengthAdjust="spacingAndGlyphs">0.4</text>
<text x="69.70" y="228.60" text-anchor="end" class="tl" textLength="28.75" lengthAdjust="spacingAndGlyphs">0.6</text>
<text x="69.70" y="147.60" text-anchor="end" class="tl" textLength="28.75" lengthAdjust="spacingAndGlyphs">0.8</text>
<text x="70.90" y="66.60" text-anchor="end" class="tl" textLength="11.50" lengthAdjust="spacingAndGlyphs">1</text>
<text x="364.90" y="532" text-anchor="middle" class="xl" style="font-size:33px" textLength="83" lengthAdjust="spacingAndGlyphs">Epoch</text>
<text transform="translate(26,260.30) rotate(-90)" x="0" y="0" text-anchor="middle" class="xl" style="font-size:33.5px" textLength="392" lengthAdjust="spacingAndGlyphs">Classification Accuracy (Bars)</text>
<line x1="485.5" y1="164.5" x2="513.6" y2="164.5" stroke="#000" stroke-width="4.5"/>
<text x="524.6" y="172.8" class="lg" textLength="49.5" lengthAdjust="spacingAndGlyphs">CD-1</text>
<line x1="485.5" y1="198.0" x2="513.6" y2="198.0" stroke="#FFA500" stroke-width="4.5"/>
<text x="523.9" y="206.3" class="lg" textLength="80" lengthAdjust="spacing">D-Wave</text>
<path fill="#000" d="M835.9 166.6H840.7V275H835.9zM856.2 87H860.7V230H856.2zM863 207H866V250H863zM851.4 271.6H859V456H851.4zM859 271.6H864V464H859zM864 260H871.7V447H864zM871.7 250H878.5V435H871.7zM878.5 200H882.4V407H878.5zM882.4 186H884.3V394H882.4zM884.3 152H887.2V353H884.3zM887.2 152H890V394H887.2zM890 139.3H895V411H890zM895 139.3H896V399H895zM896 139.3H898.8V341H896zM898.8 115H899.8V341H898.8zM899.8 115H901.7V279H899.8zM901.7 129.6H903.7V279H901.7zM903.7 103.4H905.6V270H903.7zM905.6 103.4H907.5V217H905.6zM907.5 103.4H908.5V260H907.5zM908.5 93.7H912V260H908.5zM912 95.5H914.8V297.2H912zM914.8 97.4H916.5V297.2H914.8zM916.5 114.9H916.5V297.2H916.5zM916.5 114.9H918V232.7H916.5zM918 112.7H920V232.7H918zM920 112.7H920.7V224.6H920zM920.7 116.8H922.3V224.6H920.7zM922.3 116.8H923.3V244.2H922.3zM923.3 120.3H925.4V244.2H923.3zM925.4 114.6H928V244.2H925.4zM928 118.1H929.2V244.2H928zM929.2 118.1H929.4V209.5H929.2zM929.4 117.1H930.7V209.5H929.4zM930.7 117.1H930.9V193H930.7zM930.9 113.1H932.3V193H930.9zM932.3 113.1H932.3V205.9H932.3zM932.3 112.6H933.8V205.9H932.3zM933.8 112.6H934.4V252.3H933.8zM934.4 112.6H936V252.3H934.4zM936 103.7H937.4V252.3H936zM937.4 94.4H939.6V252.3H937.4zM939.6 94.4H940V244.2H939.6zM940 96.1H942.5V244.2H940zM942.5 94.7H944.2V244.2H942.5zM944.2 94.7H944.9V195.8H944.2zM944.9 105.2H946.5V195.8H944.9zM946.5 105.2H947.3V216.5H946.5zM947.3 96H948.9V216.5H947.3zM948.9 104.3H950V216.5H948.9zM950 104.3H950.6V207.3H950zM950.6 89H953.1V207.3H950.6zM953.1 94.9H955.7V207.3H953.1zM955.7 97.7H956.9V207.3H955.7zM956.9 97.7H958.5V176H956.9zM958.5 94.7H958.5V176H958.5zM958.5 94.7H959.9V207.3H958.5zM959.9 88.3H961.2V207.3H959.9zM961.2 88.8H963.2V207.3H961.2zM963.2 90.3H963.8V207.3H963.2zM963.8 90.3H964.8V252.3H963.8zM964.8 103.6H966.7V252.3H964.8zM966.7 101.7H968.4V252.3H966.7zM968.4 101.7H968.8V205H968.4zM968.8 97.3H971.2V205H968.8zM971.2 104.2H971.9V205H971.2zM971.9 104.2H973.7V216.5H971.9zM973.7 100.4H976.2V216.5H973.7zM976.2 95.9H976.5V216.5H976.2zM976.5 95.9H978.2V195.8H976.5zM978.2 102.7H978.8V195.8H978.2zM978.8 102.7H980.2V260.3H978.8zM980.2 96.8H982.9V260.3H980.2zM982.9 87.1H983.4V260.3H982.9zM983.4 87.1H984.6V180H983.4zM984.6 89.5H985.7V180H984.6zM985.7 89.5H987.2V269.6H985.7zM987.2 82H989.5V269.6H987.2zM989.5 78.2H990.3V269.6H989.5zM990.3 78.2H992.1V216.5H990.3zM992.1 83.5H993.8V216.5H992.1zM993.8 83.5H994.2V180H993.8zM994.2 85.5H996V180H994.2zM996 85.5H996.8V205H996zM996.8 80H998.3V205H996.8zM998.3 87H998.4V205H998.3zM998.4 87H999.6V289.2H998.4zM999.6 82.5H1002V289.2H999.6zM1002 84.7H1003V289.2H1002zM1003 84.7H1003.6V195.8H1003zM1003.6 84.3H1005.1V195.8H1003.6zM1005.1 81.8H1005.3V195.8H1005.1zM1005.3 81.8H1006.5V204.2H1005.3zM1006.5 81.8H1006.9V232.7H1006.5zM1006.9 81H1009.2V232.7H1006.9zM1009.2 84.8H1010.9V232.7H1009.2zM1010.9 79.8H1011V232.7H1010.9zM1011 79.8H1013.6V182H1011zM1013.6 81.3H1014.6V182H1013.6zM1014.6 81.3H1015.3V203.8H1014.6zM1015.3 82H1017V203.8H1015.3zM1017 80.2H1019.5V203.8H1017zM1019.5 82H1020.4V203.8H1019.5zM1020.4 82H1021.9V180H1020.4zM1021.9 80.6H1022.7V180H1021.9zM1022.7 80.6H1024V232.7H1022.7zM1024 80.2H1026.1V232.7H1024zM1026.1 80.6H1028.3V232.7H1026.1zM1028.3 85H1029.6V232.7H1028.3zM1029.6 85H1032.6V216.5H1029.6zM1032.6 78.2H1034.1V216.5H1032.6zM1034.1 85H1035.4V216.5H1034.1zM1035.4 85H1036.9V211.2H1035.4zM1036.9 81.6H1036.9V211.2H1036.9zM1036.9 81.6H1038.2V200.2H1036.9zM1038.2 78.2H1038.5V200.2H1038.2zM1038.5 78.2H1040V210.8H1038.5zM1040 78.2H1040.4V281H1040zM1040.4 85H1044.6V281H1040.4zM1044.6 85H1045.7V224.6H1044.6zM1045.7 85H1047.3V240.7H1045.7zM1047.3 88.1H1049.8V240.7H1047.3zM1049.8 91.5H1054V240.7H1049.8zM1054 89.1H1055V240.7H1054zM1055 89.1H1055.5V205H1055zM1055.5 86.8H1057.2V205H1055.5zM1057.2 93H1058.4V205H1057.2zM1058.4 93H1058.6V207.3H1058.4zM1058.6 88.2H1060V207.3H1058.6zM1060 92.5H1061.2V207.3H1060zM1061.2 84.9H1061.9V207.3H1061.2zM1061.9 84.9H1063.4V171.3H1061.9zM1063.4 84.9H1063.4V169.2H1063.4zM1063.4 94H1064.8V169.2H1063.4zM1064.8 94H1066.2V167.4H1064.8zM1066.2 94H1066.5V174.7H1066.2zM1066.5 66.5H1067.7V174.7H1066.5zM1067.7 66.5H1070V180H1067.7zM1070 66.5H1071V195.8H1070zM1071 98.9H1073.4V195.8H1071zM1073.4 98.9H1073.4V189H1073.4zM1073.4 95.3H1074.9V189H1073.4zM1074.9 95.3H1075.7V177.1H1074.9zM1075.7 66.5H1076.5V177.1H1075.7zM1076.5 66.5H1078V186.1H1076.5zM1078 66.5H1081.5V244.2H1078zM1081.5 99H1083.8V244.2H1081.5zM1083.8 99H1084.4V205H1083.8zM1084.4 98.5H1086.5V205H1084.4zM1086.5 97.9H1087.3V205H1086.5zM1087.3 97.9H1088.9V260.3H1087.3zM1088.9 95.3H1090.6V260.3H1088.9zM1090.6 95.7H1091.9V260.3H1090.6zM1091.9 95.7H1092.1V204H1091.9zM1092.1 95.2H1094.1V204H1092.1zM1094.1 95.6H1095.3V204H1094.1zM1095.3 95.6H1096.7V148.9H1095.3zM1096.7 95H1096.7V148.9H1096.7zM1096.7 95H1098.2V147H1096.7zM1098.2 95H1099.6V145.8H1098.2zM1099.6 95H1099.8V148H1099.6zM1099.8 98H1101V148H1099.8zM1101 98H1102.4V195.8H1101zM1102.4 97.3H1104.2V195.8H1102.4zM1104.2 97.5H1104.6V195.8H1104.2zM1104.6 97.5H1105.7V186.5H1104.6zM1105.7 97.5H1106.6V161H1105.7zM1106.6 97.6H1108V161H1106.6zM1108 97.6H1108.2V216.5H1108zM1108.2 95.3H1110.5V216.5H1108.2zM1110.5 96.6H1112.5V216.5H1110.5zM1112.5 88.5H1113.8V216.5H1112.5zM1113.8 88.5H1115V180H1113.8zM1115 66.5H1116V180H1115zM1116 66.5H1117.5V223.4H1116zM1117.5 66.5H1119.6V240.7H1117.5zM1119.6 91H1120.8V240.7H1119.6zM1120.8 91H1121.7V223.4H1120.8zM1121.7 88.3H1123.9V223.4H1121.7zM1123.9 94.1H1125.4V223.4H1123.9zM1125.4 94.1H1126.5V165.6H1125.4zM1126.5 66.5H1127.3V165.6H1126.5zM1127.3 66.5H1129.1V151H1127.3zM1129.1 66.5H1131V164.2H1129.1zM1131 66.5H1132.3V180H1131zM1132.3 100H1134.6V180H1132.3zM1134.6 100H1134.8V168H1134.6zM1134.8 97.1H1136.6V168H1134.8zM1136.6 94.5H1138V168H1136.6zM1138 94.5H1138.1V175H1138zM1138.1 97.7H1139.2V175H1138.1zM1139.2 97.7H1140V162.5H1139.2zM1140 91.9H1140.7V162.5H1140zM1140.7 91.9H1142V154.5H1140.7zM1142 96.2H1142.1V154.5H1142zM1142.1 96.2H1143.5V161.5H1142.1zM1143.5 96.2H1144.3V163.2H1143.5zM1144.3 89.5H1145V163.2H1144.3zM1145 89.5H1147.3V180H1145zM1147.3 66.5H1150.7V161H1147.3zM1150.7 66.5H1152V203.8H1150.7zM1152 93.7H1155.4V203.8H1152zM1155.4 93.7H1156.1V175H1155.4zM1156.1 87H1157.7V175H1156.1zM1157.7 87H1158.4V149H1157.7zM1158.4 92.6H1159.3V149H1158.4zM1159.3 92.6H1159.7V152.3H1159.3zM1159.7 90.6H1160.8V152.3H1159.7zM1160.8 90.6H1161V148.6H1160.8zM1161 94.5H1162.4V148.6H1161zM1162.4 94.5H1162.8V141H1162.4zM1162.8 92.4H1164V141H1162.8zM1164 92.4H1164.7V146.4H1164zM1164.7 95.4H1165.6V146.4H1164.7zM1165.6 95.4H1166.3V145.9H1165.6zM1166.3 87.3H1167.2V145.9H1166.3zM1167.2 87.3H1167.9V149.9H1167.2zM1167.9 90.8H1168.7V149.9H1167.9zM1168.7 90.8H1169.9V148.9H1168.7zM1169.9 90.2H1170.3V148.9H1169.9zM1170.3 90.2H1171.2V156.6H1170.3zM1171.2 94H1171.5V156.6H1171.2zM1171.5 94H1173.1V223.4H1171.5zM1173.1 92H1175.3V223.4H1173.1zM1175.3 93.4H1176V223.4H1175.3zM1176 93.4H1177.6V154.2H1176zM1177.6 93.4H1178.1V142.8H1177.6zM1178.1 99.3H1179.1V142.8H1178.1zM1179.1 99.3H1180.6V154.4H1179.1zM1180.6 92.3H1180.7V154.4H1180.6zM1180.7 92.3H1181.9V175H1180.7zM1181.9 94.7H1184V175H1181.9zM1184 94.7H1184.3V154H1184zM1184.3 87.1H1187V154H1184.3zM1187 97.4H1187.6V154H1187zM1187.6 97.4H1189.7V223.4H1187.6zM1189.7 88.4H1191.5V223.4H1189.7zM1191.5 95.5H1193.4V223.4H1191.5zM1193.4 95.5H1193.6V216.5H1193.4zM1193.6 99.1H1195.1V216.5H1193.6zM1195.1 93.6H1196.5V216.5H1195.1zM1196.5 90.2H1197.9V216.5H1196.5zM1197.9 90.5H1198V216.5H1197.9zM1198 90.5H1199.2V165.7H1198zM1199.2 90.5H1199.5V187.7H1199.2zM1199.5 89.1H1202.7V187.7H1199.5zM1202.7 92.8H1203.8V187.7H1202.7zM1203.8 92.8H1204.4V137.6H1203.8zM1204.4 94H1205.5V137.6H1204.4zM1205.5 94H1206.4V125.9H1205.5zM1206.4 96.8H1207.2V125.9H1206.4zM1207.2 96.8H1207.7V126.4H1207.2zM1207.7 92.8H1208.8V126.4H1207.7zM1208.8 92.8H1210.5V131.8H1208.8zM1210.5 97H1210.5V131.8H1210.5zM1210.5 97H1212.7V150H1210.5zM1212.7 93.4H1214.3V150H1212.7zM1214.3 89.4H1216V150H1214.3zM1216 90.5H1216.5V150H1216zM1216.5 90.5H1217.9V180H1216.5zM1217.9 88.3H1219.5V180H1217.9zM1219.5 92.6H1220V180H1219.5zM1220 92.6H1221.9V184H1220zM1221.9 93.9H1224.6V184H1221.9zM1224.6 93.9H1224.7V207.3H1224.6zM1224.7 97.7H1227.2V207.3H1224.7zM1227.2 90.7H1229.9V207.3H1227.2zM1229.9 93.9H1230.4V207.3H1229.9zM1230.4 93.9H1232.5V142.6H1230.4zM1232.5 91.1H1233.8V142.6H1232.5zM1233.8 91.1H1234.3V160H1233.8zM1234.3 97.2H1236.8V160H1234.3zM1236.8 91.3H1237V160H1236.8zM1237 91.3H1238.2V177.3H1237zM1238.2 94.8H1239.7V177.3H1238.2zM1239.7 94.9H1240.8V177.3H1239.7zM1240.8 94.9H1241.1V160H1240.8zM1241.1 99.2H1242.7V160H1241.1zM1242.7 89.6H1243V160H1242.7zM1243 89.6H1246.5V152H1243zM1246.5 89.6H1247.8V170H1246.5zM1247.8 98.9H1248.8V170H1247.8zM1248.8 98.9H1249.5V149.6H1248.8zM1249.5 92.8H1251.1V149.6H1249.5zM1251.1 96.8H1252.3V149.6H1251.1zM1252.3 96.8H1254V165H1252.3zM1254 88.2H1255.6V165H1254zM1255.6 92.4H1256.8V165H1255.6zM1256.8 89.3H1257V165H1256.8zM1257 89.3H1258.5V147.8H1257zM1258.5 89.3H1260V142.5H1258.5zM1260 89.3H1260.6V139.7H1260zM1260.6 89.3H1261.5V139.7H1260.6zM1261.5 89.3H1261.9V142.2H1261.5zM1261.9 93.1H1263V142.2H1261.9zM1263 93.1H1264.4V142H1263zM1264.4 98.2H1264.5V142H1264.4zM1264.5 98.2H1266V152.1H1264.5zM1266 98.2H1267V160H1266zM1267 96.6H1268.4V160H1267zM1268.4 96.6H1269.2V177.3H1268.4zM1269.2 94.8H1271.3V177.3H1269.2zM1271.3 97.5H1271.9V177.3H1271.3zM1271.9 97.5H1273.4V140H1271.9zM1273.4 97.5H1273.9V130.5H1273.4zM1273.9 94.8H1275V130.5H1273.9zM1275 94.8H1276V143.9H1275zM1276 99.5H1276.5V143.9H1276zM1276.5 99.5H1277.3V165H1276.5zM1277.3 98.5H1279V165H1277.3zM1279 100.2H1280V165H1279zM1280 100.2H1283.3V187.7H1280zM1283.3 101.2H1283.4V187.7H1283.3zM1283.4 101.2H1285.2V160H1283.4zM1285.2 96.3H1285.7V160H1285.2zM1285.7 96.3H1286.9V202.7H1285.7zM1286.9 88.4H1289.6V202.7H1286.9zM1289.6 99.4H1290.3V202.7H1289.6zM1290.3 99.4H1291.7V147.1H1290.3zM1291.7 96.1H1291.7V147.1H1291.7zM1291.7 96.1H1293.2V143.4H1291.7zM1293.2 96.1H1294.1V144.7H1293.2zM1294.1 91.5H1294.6V144.7H1294.1zM1294.6 91.5H1296V148.9H1294.6zM1296 91.5H1296.5V149.6H1296zM1296.5 97.8H1298V149.6H1296.5zM1298 88.4H1300.7V149.6H1298zM1300.7 88.4H1300.7V165H1300.7zM1300.7 97.1H1301.9V165H1300.7zM1301.9 97.1H1303.4V202.7H1301.9zM1303.4 98.8H1305.6V202.7H1303.4zM1305.6 92H1309.8V202.7H1305.6zM1309.8 90.7H1311.1V202.7H1309.8zM1311.1 90.7H1311.8V165H1311.1zM1311.8 94.9H1312.3V165H1311.8zM1312.3 94.9H1314.3V149.6H1312.3zM1314.3 89.8H1315.9V149.6H1314.3zM1315.9 94.2H1317V149.6H1315.9zM1317 74.6H1320.4V131H1317zM1320.4 134.4H1322.3V145H1320.4zM1322.3 133.4H1322.7V145H1322.3zM1322.7 133.4H1325V165.7H1322.7zM1325 87H1326V165.7H1325zM1326 87H1327.7V152.3H1326zM1327.7 87H1328V157H1327.7zM1328 130.8H1329.3V157H1328zM1329.3 132H1329.3V157H1329.3zM1329.3 132H1330.7V146.8H1329.3zM1330.7 132.3H1331V146.8H1330.7zM1331 132.3H1332.6V150H1331zM1332.6 133.3H1332.7V150H1332.6zM1332.7 133.3H1333.8V153.4H1332.7zM1333.8 132H1334.4V153.4H1333.8zM1334.4 132H1335.3V149.3H1334.4zM1335.3 136.4H1336V149.3H1335.3zM1336 136.4H1337.7V158.1H1336zM1337.7 87H1340V160H1337.7zM1340 106.7H1342.1V179.5H1340zM1342.1 109.5H1343.4V179.5H1342.1zM1343.4 109.5H1343.8V159.3H1343.4zM1343.8 110.6H1344.9V159.3H1343.8zM1344.9 110.6H1346.1V151.6H1344.9zM1346.1 106.8H1346.5V151.6H1346.1zM1346.5 106.8H1348V156.4H1346.5zM1348 106.8H1348.7V175H1348zM1348.7 110.2H1350.1V175H1348.7zM1350.1 110.5H1351.5V175H1350.1zM1351.5 110.5H1351.6V150H1351.5zM1351.6 106.2H1353.8V150H1351.6zM1353.8 106.2H1355.4V149.6H1353.8zM1355.4 103.3H1356V149.6H1355.4zM1356 103.3H1357V160H1356zM1357 102.5H1358.4V160H1357zM1358.4 102.5H1358.5V202.7H1358.4zM1358.5 103.3H1359.9V202.7H1358.5zM1359.9 101.9H1361.1V202.7H1359.9zM1361.1 108.1H1363V202.7H1361.1zM1363 108.1H1363.6V165H1363zM1363.6 105.4H1365.4V165H1363.6zM1365.4 106.5H1366V165H1365.4zM1366 106.5H1367.7V154.4H1366zM1367.7 106.5H1367.9V148.4H1367.7zM1367.9 106.3H1369.3V148.4H1367.9zM1369.3 106.3H1370.1V161.6H1369.3zM1370.1 103H1371V161.6H1370.1zM1371 103H1371.8V187.7H1371zM1371.8 101.8H1373.4V187.7H1371.8zM1373.4 105.5H1374.6V187.7H1373.4zM1374.6 105.5H1375.4V160H1374.6zM1375.4 100H1376.9V160H1375.4zM1376.9 101.6H1377V160H1376.9zM1377 101.6H1378.2V149.6H1377zM1378.2 106.5H1379.6V149.6H1378.2zM1379.6 104.9H1380.3V149.6H1379.6zM1380.3 104.9H1381.5V141.4H1380.3z"/>
<path fill="#FFA500" d="M835.9 275H840.7V427H835.9zM840.7 200H841.3V427H840.7zM837.8 427H846.5V456H837.8zM841.3 107H846.5V456H841.3zM846.5 205H851.4V427H846.5zM851.4 204H856.2V271.6H851.4zM856.2 230H860.7V271H856.2zM860.7 136H863V260H860.7zM863 87H866V207H863zM866 87H867.8V244H866zM867.8 132.5H870.7V230H867.8zM870.7 107.3H875.6V215H870.7zM875.6 116H880.4V200H875.6zM880.4 103.4H883.3V190H880.4zM883.3 78.2H885.3V186H883.3zM885.3 78.2H888.2V152H885.3zM888.2 74.4H890V152H888.2zM890 74.4H892V139.3H890zM892 78H898.8V139.3H892zM898.8 66.6H901.7V115H898.8zM901.7 59H903.7V129.6H901.7zM903.7 59H907.5V103.4H903.7zM907.5 59H909.5V96H907.5zM909.5 66.6H912V93.7H909.5zM912 65.3H914V95H912zM914 65.3H916.8V110H914zM916.8 69.8H920V110H916.8zM920 69.8H921.2V106.7H920zM921.2 65.3H924.9V106.7H921.2zM924.9 72.7H927V106.7H924.9zM927 72.7H930.1V121.4H927zM930.1 63.9H934.5V121.4H930.1zM934.5 60.9H939V95H934.5zM939 65.3H939.7V95H939zM939.7 65.3H943.4V90H939.7zM943.4 60.9H944V90H943.4zM944 60.9H946.3V95H944zM946.3 65.3H949.3V95H946.3zM949.3 60.2H955.2V105H949.3zM955.2 60.2H964V89H955.2zM964 60.2H967V95H964zM967 65.3H971.4V88H967zM971.4 65.3H972.9V92H971.4zM972.9 59.4H974.4V92H972.9zM974.4 59.4H977.3V103.7H974.4zM977.3 70H978.8V95H977.3zM978.8 70H985V89H978.8zM985 61H991V84.5H985zM991 67H999.8V83H991zM999.8 70H1004.2V80H999.8zM1004.2 72H1008.6V80H1004.2zM1008.6 66.5H1011.6V80H1008.6zM1011.6 66.5H1022V83H1011.6zM1022 66.5H1029V81.6H1022zM1029 71.5H1047V86H1029zM1047 65.3H1053V92.5H1047zM1053 70H1056V92.5H1053zM1056 70H1065V95H1056zM1065 77.2H1067.3V96.8H1065zM1067.3 77.2H1067.7V96.4H1067.3zM1067.7 72H1069.6V96.4H1067.7zM1069.6 72H1070.3V99.9H1069.6zM1070.3 74H1072.2V99.9H1070.3zM1072.2 74H1072.5V99.3H1072.2zM1072.5 72.3H1073.6V99.3H1072.5zM1073.6 72.3H1074.5V96.3H1073.6zM1074.5 74.2H1074.9V96.3H1074.5zM1074.9 74.2H1076V98.9H1074.9zM1076 74.2H1077.4V98.9H1076zM1077.4 74.2H1077.6V98.5H1077.4zM1077.6 72H1078.8V98.5H1077.6zM1078.8 74H1080.2V98.5H1078.8zM1080.2 74H1081.1V97.1H1080.2zM1081.1 75.9H1082.2V97.1H1081.1zM1082.2 75.9H1083.2V100H1082.2zM1083.2 71.8H1084.3V100H1083.2zM1084.3 71.8H1084.9V99.5H1084.3zM1084.9 75H1086.5V99.5H1084.9zM1086.5 75H1087.4V98.9H1086.5zM1087.4 75.2H1088V98.9H1087.4zM1088 75.2H1089.6V96.3H1088zM1089.6 73.7H1090.4V96.3H1089.6zM1090.4 73.7H1092.4V96.7H1090.4zM1092.4 73.7H1092.9V96.7H1092.4zM1092.9 73.7H1094.5V96.2H1092.9zM1094.5 73.7H1094.8V96.6H1094.5zM1094.8 75.5H1096.7V96.6H1094.8zM1096.7 75.5H1096.9V96H1096.7zM1096.9 72H1098.6V96H1096.9zM1098.6 75.8H1099.5V96H1098.6zM1099.5 75.8H1100.6V99H1099.5zM1100.6 74.2H1102V99H1100.6zM1102 74.2H1102.7V98.3H1102zM1102.7 72.6H1104.1V98.3H1102.7zM1104.1 72.6H1105V98.5H1104.1zM1105 73.4H1106.4V98.5H1105zM1106.4 72.7H1106.6V98.5H1106.4zM1106.6 72.7H1108V98.6H1106.6zM1108 72.7H1108.9V96.3H1108zM1108.9 72.1H1109.8V96.3H1108.9zM1109.8 72.1H1110.3V97.6H1109.8zM1110.3 73.2H1111.6V97.6H1110.3zM1111.6 76.4H1111.8V97.6H1111.6zM1111.8 76.4H1113.6V97.4H1111.8zM1113.6 76.4H1113.7V95.3H1113.6zM1113.7 73.7H1115V95.3H1113.7zM1115 73.7H1115.4V96.4H1115zM1115.4 73.8H1117.1V96.4H1115.4zM1117.1 75.3H1117.2V96.4H1117.1zM1117.2 75.3H1119.5V94.8H1117.2zM1119.5 72.7H1120V94.8H1119.5zM1120 72.7H1121.2V99.7H1120zM1121.2 76.3H1122.5V99.7H1121.2zM1122.5 76.3H1123.6V89.3H1122.5zM1123.6 73.5H1123.9V89.3H1123.6zM1123.9 73.5H1126V102.7H1123.9zM1126 73.5H1126.1V93.9H1126zM1126.1 77.6H1128.2V93.9H1126.1zM1128.2 77.7H1128.2V93.9H1128.2zM1128.2 77.7H1130.2V100H1128.2zM1130.2 77.7H1130.4V95.7H1130.2zM1130.4 77.9H1131.8V95.7H1130.4zM1131.8 74.6H1132.3V95.7H1131.8zM1132.3 74.6H1133.1V102H1132.3zM1133.1 76.9H1134.4V102H1133.1zM1134.4 77.9H1134.4V102H1134.4zM1134.4 77.9H1136.7V100.6H1134.4zM1136.7 77.8H1136.9V100.6H1136.7zM1136.9 77.8H1138.5V96.8H1136.9zM1138.5 77.8H1139.1V98.7H1138.5zM1139.1 78H1141.1V98.7H1139.1zM1141.1 78H1141.2V101.9H1141.1zM1141.2 74.2H1143.6V101.9H1141.2zM1143.6 74.4H1143.8V101.9H1143.6zM1143.8 74.4H1145.2V95.4H1143.8zM1145.2 74.4H1146.4V90.5H1145.2zM1146.4 72.6H1146.9V90.5H1146.4zM1146.9 72.6H1147.9V103H1146.9zM1147.9 73.3H1149V103H1147.9zM1149 73.3H1149.8V88.9H1149zM1149.8 77.9H1151.4V88.9H1149.8zM1151.4 77.9H1152.5V93.2H1151.4zM1152.5 72.8H1153V93.2H1152.5zM1153 72.8H1154.1V94.7H1153zM1154.1 73.2H1155.6V94.7H1154.1zM1155.6 73.2H1156.1V96.2H1155.6zM1156.1 77.1H1157V96.2H1156.1zM1157 77.1H1158.2V88H1157zM1158.2 74.7H1158.6V88H1158.2zM1158.6 74.7H1159.8V103.3H1158.6zM1159.8 74.9H1160.8V103.3H1159.8zM1160.8 74.9H1162.4V99.2H1160.8zM1162.4 77.6H1163.2V99.2H1162.4zM1163.2 77.6H1164.2V96.4H1163.2zM1164.2 77.6H1164.7V96.4H1164.2zM1164.7 77.6H1166.7V99.6H1164.7zM1166.7 74.7H1166.9V99.6H1166.7zM1166.9 74.7H1168.8V88.3H1166.9zM1168.8 74.7H1169V91.8H1168.8zM1169 77.2H1171.3V91.8H1169zM1171.3 73.7H1171.5V91.8H1171.3zM1171.5 73.7H1173.5V95H1171.5zM1173.5 74.7H1173.9V95H1173.5zM1173.9 74.7H1175.2V93H1173.9zM1175.2 75.6H1176.3V93H1175.2zM1176.3 75.6H1177.6V94.4H1176.3zM1177.6 77.3H1177.7V94.4H1177.6zM1177.7 77.3H1179.6V100.3H1177.7zM1179.6 77.3H1179.7V98.3H1179.6zM1179.7 76.1H1181.1V98.3H1179.7zM1181.1 75.7H1181.5V98.3H1181.1zM1181.5 75.7H1182.8V99.4H1181.5zM1182.8 73.8H1183.3V99.4H1182.8zM1183.3 73.8H1184.8V101.7H1183.3zM1184.8 73.8H1185.3V88.1H1184.8zM1185.3 72.8H1187.5V88.1H1185.3zM1187.5 72.8H1188.1V100.1H1187.5zM1188.1 75.6H1190V100.1H1188.1zM1190 66.5H1190.1V100.1H1190zM1190.1 66.5H1192.4V89.4H1190.1zM1192.4 66.5H1194.7V100.1H1192.4zM1194.7 66.5H1195.7V103.2H1194.7zM1195.7 75.8H1196.9V103.2H1195.7zM1196.9 75.8H1197.3V97.9H1196.9zM1197.3 75.1H1199.2V97.9H1197.3zM1199.2 72.4H1199.6V97.9H1199.2zM1199.6 72.4H1201.6V90.1H1199.6zM1201.6 77.1H1202.3V90.1H1201.6zM1202.3 77.1H1203.4V96.3H1202.3zM1203.4 77.6H1204V96.3H1203.4zM1204 77.6H1204.8V103.1H1204zM1204.8 76.5H1206V103.1H1204.8zM1206 76.5H1206.3V97.8H1206zM1206.3 75.1H1207.8V97.8H1206.3zM1207.8 73H1208.3V97.8H1207.8zM1208.3 73H1209.7V103H1208.3zM1209.7 75.4H1210.5V103H1209.7zM1210.5 75.4H1212V99.8H1210.5zM1212 75.7H1212.3V99.8H1212zM1212.3 75.7H1214.3V94.4H1212.3zM1214.3 75.7H1214.5V94.4H1214.3zM1214.5 75.7H1216.2V90.4H1214.5zM1216.2 75.7H1216.4V93.4H1216.2zM1216.4 77.9H1217.4V93.4H1216.4zM1217.4 77.9H1218.1V89.3H1217.4zM1218.1 77.8H1219.1V89.3H1218.1zM1219.1 77.8H1219.4V93.6H1219.1zM1219.4 75.5H1221.1V93.6H1219.4zM1221.1 75.5H1222V100.5H1221.1zM1222 76.6H1223.8V100.5H1222zM1223.8 76.6H1224.4V101.6H1223.8zM1224.4 74.3H1226V101.6H1224.4zM1226 74.3H1226.6V89.9H1226zM1226.6 74.7H1227.7V89.9H1226.6zM1227.7 74.7H1228.3V91.7H1227.7zM1228.3 78.3H1229.8V91.7H1228.3zM1229.8 78.3H1230V94.9H1229.8zM1230 74.9H1231.7V94.9H1230zM1231.7 77.5H1232.6V94.9H1231.7zM1232.6 77.5H1233.6V92.1H1232.6zM1233.6 75.9H1235.2V92.1H1233.6zM1235.2 75.9H1235.6V98.2H1235.2zM1235.6 74.3H1236.6V98.2H1235.6zM1236.6 74.3H1237.2V92.3H1236.6zM1237.2 73.9H1238.5V92.3H1237.2zM1238.5 77.7H1238.9V92.3H1238.5zM1238.9 77.7H1240.2V103.8H1238.9zM1240.2 73.3H1241.6V103.8H1240.2zM1241.6 73.3H1242.2V103.9H1241.6zM1242.2 73.4H1243.9V103.9H1242.2zM1243.9 73.4H1244.1V90.6H1243.9zM1244.1 75.3H1246.2V90.6H1244.1zM1246.2 74.2H1246.6V90.6H1246.2zM1246.6 74.2H1248.8V100.2H1246.6zM1248.8 74.2H1249V100.2H1248.8zM1249 74.2H1251.3V93.8H1249zM1251.3 76.5H1251.4V93.8H1251.3zM1251.4 76.5H1253.5V97.8H1251.4zM1253.5 76.5H1254.1V89.2H1253.5zM1254.1 77.5H1255.4V89.2H1254.1zM1255.4 74.9H1256V89.2H1255.4zM1256 74.9H1257V93.4H1256zM1257 77.7H1257.8V93.4H1257zM1257.8 77.7H1258.5V90.3H1257.8zM1258.5 77.1H1259.8V90.3H1258.5zM1259.8 76.8H1260.3V90.3H1259.8zM1260.3 76.8H1261.6V90.3H1260.3zM1261.6 76.8H1261.6V95.4H1261.6zM1261.6 73.2H1263V95.4H1261.6zM1263 73.2H1263.3V94.1H1263zM1263.3 76.7H1265.5V94.1H1263.3zM1265.5 76.7H1266V99.2H1265.5zM1266 78.6H1266.9V99.2H1266zM1266.9 78.6H1267.4V97.6H1266.9zM1267.4 73.9H1268.6V97.6H1267.4zM1268.6 73.9H1270.1V95.8H1268.6zM1270.1 76.4H1271V95.8H1270.1zM1271 76.4H1271.3V98.5H1271zM1271.3 77.2H1272.8V98.5H1271.3zM1272.8 77H1273.4V98.5H1272.8zM1273.4 77H1274.7V100.8H1273.4zM1274.7 77.4H1276V100.8H1274.7zM1276 77.4H1276.8V100.5H1276zM1276.8 76.4H1278.6V100.5H1276.8zM1278.6 76.4H1279.3V96.7H1278.6zM1279.3 74.8H1280.3V96.7H1279.3zM1280.3 74.8H1281.5V101.2H1280.3zM1281.5 73.4H1282.7V101.2H1281.5zM1282.7 73.4H1282.9V102.2H1282.7zM1282.9 74.1H1285.1V102.2H1282.9zM1285.1 74.1H1285.5V97.3H1285.1zM1285.5 74.7H1287.3V97.3H1285.5zM1287.3 76.1H1287.6V97.3H1287.3zM1287.6 76.1H1289.5V89.4H1287.6zM1289.5 75.5H1289.8V89.4H1289.5zM1289.8 75.5H1291.8V100.4H1289.8zM1291.8 75.5H1292.1V102.3H1291.8zM1292.1 76.8H1293.9V102.3H1292.1zM1293.9 78.4H1294.4V102.3H1293.9zM1294.4 78.4H1296.3V92.5H1294.4zM1296.3 78.2H1296.3V92.5H1296.3zM1296.3 78.2H1298V99.3H1296.3zM1298 78.8H1299V99.3H1298zM1299 78.8H1300.5V89.4H1299zM1300.5 78.8H1300.7V98.1H1300.5zM1300.7 75.2H1302.2V98.1H1300.7zM1302.2 77.9H1303.1V98.1H1302.2zM1303.1 77.9H1304.4V104.7H1303.1zM1304.4 77.9H1304.6V101H1304.4zM1304.6 75.3H1305.9V101H1304.6zM1305.9 77.5H1306.6V101H1305.9zM1306.6 77.5H1308.2V93H1306.6zM1308.2 74.2H1309.1V93H1308.2zM1309.1 74.2H1310.3V91.7H1309.1zM1310.3 73.3H1311.1V91.7H1310.3zM1311.1 73.3H1312.1V95.9H1311.1zM1312.1 75.5H1313.3V95.9H1312.1zM1313.3 75.5H1313.8V90.8H1313.3zM1313.8 76.5H1315.8V90.8H1313.8zM1315.8 76.5H1316.3V95.2H1315.8zM1316.3 77.5H1317V95.2H1316.3zM1317 77.5H1318.2V122.3H1317zM1318.2 77.5H1318.2V138.2H1318.2zM1318.2 88.1H1319.9V138.2H1318.2zM1319.9 85.3H1320.9V138.2H1319.9zM1320.9 85.3H1321.8V138H1320.9zM1321.8 87.9H1322.4V138H1321.8zM1322.4 87.9H1324V134.4H1322.4zM1324 87.9H1324.3V134.8H1324zM1324.3 87.9H1326.2V134.8H1324.3zM1326.2 87.9H1327.1V133.5H1326.2zM1327.1 87.5H1327.7V133.5H1327.1zM1327.7 87.5H1329.2V134.2H1327.7zM1329.2 87.5H1329.3V133.3H1329.2zM1329.3 90.6H1331.5V133.3H1329.3zM1331.5 89.3H1331.9V133.3H1331.5zM1331.9 89.3H1333.9V134.3H1331.9zM1333.9 89.3H1334.2V133H1333.9zM1334.2 85.9H1336.1V133H1334.2zM1336.1 88.1H1336.3V133H1336.1zM1336.3 88.1H1338.1V137.4H1336.3zM1338.1 88.1H1338.7V135.5H1338.1zM1338.7 86.3H1339.3V135.5H1338.7zM1339.3 86.3H1340.5V131.6H1339.3zM1340.5 74.3H1341V131.6H1340.5zM1341 74.3H1341.7V110.5H1341zM1341.7 76.4H1343.3V110.5H1341.7zM1343.3 76.4H1344.5V111.6H1343.3zM1344.5 76H1345.8V111.6H1344.5zM1345.8 76H1346.8V110.8H1345.8zM1346.8 73H1348V110.8H1346.8zM1348 66.5H1348.3V110.8H1348zM1348.3 66.5H1349.6V111.2H1348.3zM1349.6 66.5H1351V111.5H1349.6zM1351 66.5H1352V110.5H1351zM1352 75.4H1352.4V110.5H1352zM1352.4 75.4H1354.2V107.2H1352.4zM1354.2 78.1H1354.9V107.2H1354.2zM1354.9 78.1H1356.3V107H1354.9zM1356.3 75.7H1356.9V107H1356.3zM1356.9 75.7H1358.4V104.3H1356.9zM1358.4 77.8H1359.4V104.3H1358.4zM1359.4 77.8H1359.7V108H1359.4zM1359.7 78.8H1360.7V108H1359.7zM1360.7 78.8H1361.1V107H1360.7zM1361.1 78.7H1361.9V107H1361.1zM1361.9 78.7H1362.8V109.1H1361.9zM1362.8 78.6H1364.1V109.1H1362.8zM1364.1 78.6H1365.2V106.4H1364.1zM1365.2 76.2H1365.3V106.4H1365.2zM1365.3 76.2H1367V107.5H1365.3zM1367 76.2H1367.3V108.5H1367zM1367.3 80.9H1368.3V108.5H1367.3zM1368.3 80.9H1369V107.3H1368.3zM1369 76.7H1370.6V107.3H1369zM1370.6 78.3H1371V107.3H1370.6zM1371 78.3H1372.6V109H1371zM1372.6 76.8H1373.3V109H1372.6zM1373.3 76.8H1375.1V108.9H1373.3zM1375.1 75.1H1375.8V108.9H1375.1zM1375.8 75.1H1377.8V104.5H1375.8zM1377.8 75.1H1377.8V109.1H1377.8zM1377.8 78.4H1380.3V109.1H1377.8zM1380.3 78.4H1380.3V105.9H1380.3zM1380.3 75.9H1381.5V105.9H1380.3z"/>
<path fill="#fff" d="M970.4 97.3H971.4V116.2H970.4zM1044.7 86H1045.7V95.1H1044.7zM984.8 89.5H985.8V102.9H984.8zM1014.6 83H1015.6V104.6H1014.6zM939.5 95H940.5V108.1H939.5zM1085.5 99.5H1086.5V108.9H1085.5zM945.2 105.2H946.2V126.1H945.2zM1029.3 86H1030.3V101H1029.3zM998.2 83H999.2V90.2H998.2zM1032.5 86H1033.5V97H1032.5zM995 85.5H996V109.1H995zM1005.2 81.8H1006.2V95.3H1005.2zM978.3 102.7H979.3V114.1H978.3zM1028.2 81.6H1029.2V101.2H1028.2zM933.7 121.4H934.7V127.5H933.7zM986.3 89.5H987.3V98.7H986.3zM1024.6 81.6H1025.6V90.7H1024.6zM1006.8 81.8H1007.8V96.8H1006.8zM1095 96.6H1096V108.7H1095zM961.3 89H962.3V101.4H961.3zM1286.7 97.3H1287.7V104.7H1286.7zM1250.8 93.8H1251.8V105.9H1250.8zM1275.5 100.8H1276.5V106.5H1275.5zM1302.8 98.1H1303.8V104.3H1302.8zM1255.5 89.2H1256.5V99.7H1255.5zM1269.3 95.8H1270.3V108.5H1269.3zM1242.7 103.9H1243.7V115.5H1242.7zM1245.4 90.6H1246.4V96.8H1245.4zM939.7 90H944V110H939.7zM944 95H949.3V100H944zM955.2 89H964V97H955.2zM967 88H971.4V95H967zM978.8 89H985V99H978.8zM990.9 83H993.5V104H990.9zM996 83H999.8V110H996zM1004.2 80H1006.5V102H1004.2zM1011.6 83H1013.8V102H1011.6zM1016 83H1018.5V96H1016zM1020 83H1021.5V99H1020zM1022 81.6H1024.5V103.7H1022zM1026 81.6H1027.8V100H1026zM1028 81.6H1029.5V107H1028zM1033.6 86H1036V106.7H1033.6zM1040.6 86H1043V103H1040.6zM1048.5 92.5H1050.3V104H1048.5zM1055.8 95H1058.5V114H1055.8zM1060.5 95H1063V108H1060.5zM907 106.9H908.3V142.8H907zM918.7 111H920V130.9H918.7zM925.9 107.7H927.2V130.1H925.9zM936.3 96H937.6V113.9H936.3zM949 96H950.3V113.5H949zM960.5 90H961.8V128.7H960.5zM969.8 89H971.1V128H969.8zM977.8 96H979.1V133.9H977.8zM988.3 85.5H989.6V125.5H988.3zM1000 81H1001.3V119.2H1000zM1012.2 84H1013.5V107.9H1012.2zM1019.4 84H1020.7V105.6H1019.4zM1030.9 87H1032.2V118H1030.9zM1040.8 87H1042.1V116.8H1040.8zM1048 93.5H1049.3V135.5H1048zM1058.4 96H1059.7V128.8H1058.4zM1068.4 97.4H1069.7V138.3H1068.4zM1078.2 99.5H1079.5V131.1H1078.2zM1090 97.3H1091.3V118.3H1090zM1102 100H1103.3V133.9H1102zM1111 98.6H1112.3V119.6H1111z"/>
<path fill="#000" d="M999.8 59.4H1004.2V65.3H999.8zM1053 59.4H1055.2V66.8H1053zM1066.6 66.8H1071V74.2H1066.6zM1075.5 66.8H1082V74.2H1075.5zM1116 66.8H1120.5V74.2H1116zM1125.7 66.8H1132.3V74.2H1125.7zM1322.5 85H1325V101H1322.5zM1325.5 87H1328.5V101H1325.5zM1331 95H1333V120H1331zM1337.7 87H1340V131H1337.7z"/>
<rect x="835.80" y="59.00" width="580.80" height="405.00" fill="none" stroke="#222" stroke-width="1.5"/>
<line x1="872.10" y1="464.0" x2="872.10" y2="458.0" stroke="#222" stroke-width="1.5"/>
<line x1="872.10" y1="59.0" x2="872.10" y2="65.0" stroke="#222" stroke-width="1.5"/>
<line x1="908.40" y1="464.0" x2="908.40" y2="452.5" stroke="#222" stroke-width="1.5"/>
<line x1="908.40" y1="59.0" x2="908.40" y2="70.5" stroke="#222" stroke-width="1.5"/>
<line x1="944.70" y1="464.0" x2="944.70" y2="458.0" stroke="#222" stroke-width="1.5"/>
<line x1="944.70" y1="59.0" x2="944.70" y2="65.0" stroke="#222" stroke-width="1.5"/>
<line x1="981.00" y1="464.0" x2="981.00" y2="452.5" stroke="#222" stroke-width="1.5"/>
<line x1="981.00" y1="59.0" x2="981.00" y2="70.5" stroke="#222" stroke-width="1.5"/>
<line x1="1017.30" y1="464.0" x2="1017.30" y2="458.0" stroke="#222" stroke-width="1.5"/>
<line x1="1017.30" y1="59.0" x2="1017.30" y2="65.0" stroke="#222" stroke-width="1.5"/>
<line x1="1053.60" y1="464.0" x2="1053.60" y2="452.5" stroke="#222" stroke-width="1.5"/>
<line x1="1053.60" y1="59.0" x2="1053.60" y2="70.5" stroke="#222" stroke-width="1.5"/>
<line x1="1089.90" y1="464.0" x2="1089.90" y2="458.0" stroke="#222" stroke-width="1.5"/>
<line x1="1089.90" y1="59.0" x2="1089.90" y2="65.0" stroke="#222" stroke-width="1.5"/>
<line x1="1126.20" y1="464.0" x2="1126.20" y2="452.5" stroke="#222" stroke-width="1.5"/>
<line x1="1126.20" y1="59.0" x2="1126.20" y2="70.5" stroke="#222" stroke-width="1.5"/>
<line x1="1162.50" y1="464.0" x2="1162.50" y2="458.0" stroke="#222" stroke-width="1.5"/>
<line x1="1162.50" y1="59.0" x2="1162.50" y2="65.0" stroke="#222" stroke-width="1.5"/>
<line x1="1198.80" y1="464.0" x2="1198.80" y2="452.5" stroke="#222" stroke-width="1.5"/>
<line x1="1198.80" y1="59.0" x2="1198.80" y2="70.5" stroke="#222" stroke-width="1.5"/>
<line x1="1235.10" y1="464.0" x2="1235.10" y2="458.0" stroke="#222" stroke-width="1.5"/>
<line x1="1235.10" y1="59.0" x2="1235.10" y2="65.0" stroke="#222" stroke-width="1.5"/>
<line x1="1271.40" y1="464.0" x2="1271.40" y2="452.5" stroke="#222" stroke-width="1.5"/>
<line x1="1271.40" y1="59.0" x2="1271.40" y2="70.5" stroke="#222" stroke-width="1.5"/>
<line x1="1307.70" y1="464.0" x2="1307.70" y2="458.0" stroke="#222" stroke-width="1.5"/>
<line x1="1307.70" y1="59.0" x2="1307.70" y2="65.0" stroke="#222" stroke-width="1.5"/>
<line x1="1344.00" y1="464.0" x2="1344.00" y2="452.5" stroke="#222" stroke-width="1.5"/>
<line x1="1344.00" y1="59.0" x2="1344.00" y2="70.5" stroke="#222" stroke-width="1.5"/>
<line x1="1380.30" y1="464.0" x2="1380.30" y2="458.0" stroke="#222" stroke-width="1.5"/>
<line x1="1380.30" y1="59.0" x2="1380.30" y2="65.0" stroke="#222" stroke-width="1.5"/>
<line x1="835.8" y1="423.50" x2="841.8" y2="423.50" stroke="#222" stroke-width="1.5"/>
<line x1="1416.6" y1="423.50" x2="1410.6" y2="423.50" stroke="#222" stroke-width="1.5"/>
<line x1="835.8" y1="383.00" x2="853.8" y2="383.00" stroke="#222" stroke-width="1.5"/>
<line x1="1416.6" y1="383.00" x2="1398.6" y2="383.00" stroke="#222" stroke-width="1.5"/>
<line x1="835.8" y1="342.50" x2="841.8" y2="342.50" stroke="#222" stroke-width="1.5"/>
<line x1="1416.6" y1="342.50" x2="1410.6" y2="342.50" stroke="#222" stroke-width="1.5"/>
<line x1="835.8" y1="302.00" x2="853.8" y2="302.00" stroke="#222" stroke-width="1.5"/>
<line x1="1416.6" y1="302.00" x2="1398.6" y2="302.00" stroke="#222" stroke-width="1.5"/>
<line x1="835.8" y1="261.50" x2="841.8" y2="261.50" stroke="#222" stroke-width="1.5"/>
<line x1="1416.6" y1="261.50" x2="1410.6" y2="261.50" stroke="#222" stroke-width="1.5"/>
<line x1="835.8" y1="221.00" x2="853.8" y2="221.00" stroke="#222" stroke-width="1.5"/>
<line x1="1416.6" y1="221.00" x2="1398.6" y2="221.00" stroke="#222" stroke-width="1.5"/>
<line x1="835.8" y1="180.50" x2="841.8" y2="180.50" stroke="#222" stroke-width="1.5"/>
<line x1="1416.6" y1="180.50" x2="1410.6" y2="180.50" stroke="#222" stroke-width="1.5"/>
<line x1="835.8" y1="140.00" x2="853.8" y2="140.00" stroke="#222" stroke-width="1.5"/>
<line x1="1416.6" y1="140.00" x2="1398.6" y2="140.00" stroke="#222" stroke-width="1.5"/>
<line x1="835.8" y1="99.50" x2="841.8" y2="99.50" stroke="#222" stroke-width="1.5"/>
<line x1="1416.6" y1="99.50" x2="1410.6" y2="99.50" stroke="#222" stroke-width="1.5"/>
<text x="835.80" y="491" text-anchor="middle" class="tl" textLength="11.50" lengthAdjust="spacingAndGlyphs">0</text>
<text x="908.40" y="491" text-anchor="middle" class="tl" textLength="34.50" lengthAdjust="spacingAndGlyphs">200</text>
<text x="981.00" y="491" text-anchor="middle" class="tl" textLength="34.50" lengthAdjust="spacingAndGlyphs">400</text>
<text x="1053.60" y="491" text-anchor="middle" class="tl" textLength="34.50" lengthAdjust="spacingAndGlyphs">600</text>
<text x="1126.20" y="491" text-anchor="middle" class="tl" textLength="34.50" lengthAdjust="spacingAndGlyphs">800</text>
<text x="1198.80" y="491" text-anchor="middle" class="tl" textLength="46.00" lengthAdjust="spacingAndGlyphs">1000</text>
<text x="1271.40" y="491" text-anchor="middle" class="tl" textLength="46.00" lengthAdjust="spacingAndGlyphs">1200</text>
<text x="1344.00" y="491" text-anchor="middle" class="tl" textLength="46.00" lengthAdjust="spacingAndGlyphs">1400</text>
<text x="1416.60" y="491" text-anchor="middle" class="tl" textLength="46.00" lengthAdjust="spacingAndGlyphs">1600</text>
<text x="830.80" y="471.60" text-anchor="end" class="tl" textLength="11.50" lengthAdjust="spacingAndGlyphs">0</text>
<text x="830.80" y="390.60" text-anchor="end" class="tl" textLength="28.75" lengthAdjust="spacingAndGlyphs">0.2</text>
<text x="830.80" y="309.60" text-anchor="end" class="tl" textLength="28.75" lengthAdjust="spacingAndGlyphs">0.4</text>
<text x="830.80" y="228.60" text-anchor="end" class="tl" textLength="28.75" lengthAdjust="spacingAndGlyphs">0.6</text>
<text x="830.80" y="147.60" text-anchor="end" class="tl" textLength="28.75" lengthAdjust="spacingAndGlyphs">0.8</text>
<text x="832.00" y="66.60" text-anchor="end" class="tl" textLength="11.50" lengthAdjust="spacingAndGlyphs">1</text>
<text x="1126.20" y="532" text-anchor="middle" class="xl" style="font-size:33px" textLength="83" lengthAdjust="spacingAndGlyphs">Epoch</text>
<text transform="translate(787.5,262.20) rotate(-90)" x="0" y="0" text-anchor="middle" class="xl" style="font-size:33.5px" textLength="419.5" lengthAdjust="spacingAndGlyphs">Classification Accuracy (Stripes)</text>
<line x1="1247.4" y1="222.4" x2="1274.3" y2="222.4" stroke="#000" stroke-width="4.5"/>
<text x="1285.8" y="230.70000000000002" class="lg" textLength="49.5" lengthAdjust="spacingAndGlyphs">CD-1</text>
<line x1="1247.4" y1="255.9" x2="1274.3" y2="255.9" stroke="#FFA500" stroke-width="4.5"/>
<text x="1285.1" y="264.2" class="lg" textLength="80" lengthAdjust="spacing">D-Wave</text>
<text x="5.5" y="38.2" class="pl">A</text>
<text x="750.5" y="37.6" class="pl">B</text>
</svg>
</body></html>
